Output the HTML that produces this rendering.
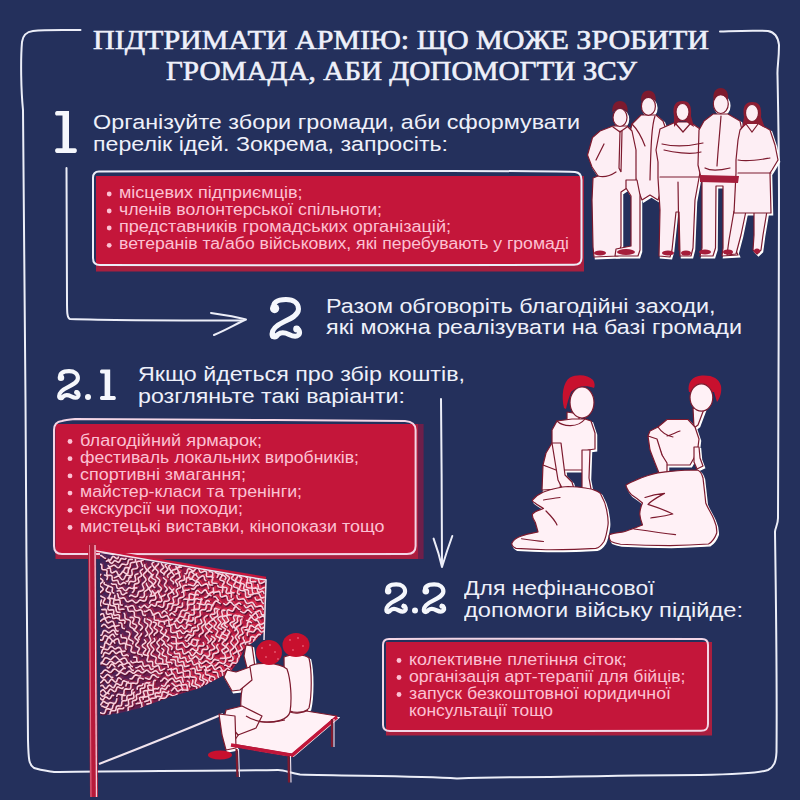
<!DOCTYPE html>
<html><head><meta charset="utf-8"><style>
html,body{margin:0;padding:0;}
body{width:800px;height:800px;overflow:hidden;background:#24305c;position:relative;}
.t{position:absolute;white-space:nowrap;transform-origin:0 0;}
svg{position:absolute;left:0;top:0;}
</style></head><body>
<svg width="800" height="800" viewBox="0 0 800 800">
<g fill="none" stroke="#eceef8" stroke-width="2" stroke-linecap="round" stroke-linejoin="round">
 <!-- frame -->
 <path d="M80.5,30 C60,30 45,29.5 33,31 C26,32 23,35 22,42 C20.5,60 21,90 23,110 C24.5,200 25,300 25.5,400 C26,500 27,650 28,740 C28.5,760 29,765 34,768 C40,770 48,771 54,772 C80,771 200,771 278,770 C285,770 290,773 300,774.5 C350,776 420,776 457,778.5 C480,777.5 520,777 550,777 C600,776 650,775 700,775 C730,774.5 760,773 768,770 C774,767 776,762 776.5,752 C777,700 776,600 775,532 C775,528 778,525 778,518 C778,450 779,300 779,200 C779,150 778,100 777.5,75 C777,68 779,60 779,45 C778,36 774,32 768,31 C750,30 735,31 720,31.5"/>
 <!-- section 1 connector -->
 <path d="M66.5,168 C66.5,220 67,270 67,300 C67,312 67,318 70,319 C100,320 180,320.5 242,320.5"/>
 <path d="M211,313 C225,315 237,317 246,319.5 C236,324 226,330 214,335"/>
 <!-- 2.1 down arrow -->
 <path d="M441,399 C441.5,450 442,520 442,566"/>
 <path d="M433.6,538.6 C437,548 440,558 442,567 C445,557 449,545 452.3,536"/>
</g>
<!-- box 1 -->
<rect x="96" y="176" width="488" height="95.5" fill="#a81f3f"/>
<rect x="96" y="176" width="485" height="89.5" fill="#c4163a"/>
<path d="M99,171.5 C200,171 350,170.5 450,171 C520,171 560,171.5 575,172 C580,172.5 581.5,175 581.5,180 L581.5,258 C581.5,263 579,264.8 574,264.8 C450,265 250,265.5 100,265 C95,265 93,263 93,258 L93,178 C93,174 95,171.5 99,171.5 Z" fill="none" stroke="#eceef8" stroke-width="2"/>
<!-- box 2.1 -->
<rect x="55.6" y="424" width="368" height="135" fill="#6e1f4a"/>
<rect x="55.6" y="424" width="362.4" height="135" fill="#a81f3f"/>
<rect x="55.6" y="424" width="360" height="130" fill="#c4163a"/>
<path d="M62,421 C65,420 70,419.5 75,419 C150,419.5 300,420 405,421 C412,421.5 415.6,424 415.6,430 L415.6,546 C415.6,551 413,554 407,554 C300,554.5 150,554 62,554 C57,554 54,551 54,546 L54,430 C54,425 57,421.5 62,421 Z" fill="none" stroke="#f3d6e6" stroke-width="2"/>
<!-- box 2.2 -->
<rect x="386" y="642" width="326" height="93.5" fill="#a81f3f"/>
<rect x="386" y="642" width="322" height="89" fill="#c4163a"/>
<path d="M389,639 C500,638.5 620,638.5 702,639 C706,639 708,641 708,645 L708,724 C708,729 706,730.7 701,730.7 C600,731 480,731 390,731 C385.5,731 383,729 383,725 L383,645 C383,641 385,639 389,639 Z" fill="none" stroke="#f3d6e6" stroke-width="2"/>
<!-- bullets -->
<g fill="#fcc1d3">
 <circle cx="109.2" cy="194" r="2.4"/><circle cx="109.2" cy="211" r="2.4"/><circle cx="109.2" cy="228" r="2.4"/><circle cx="109.2" cy="245.3" r="2.4"/>
 <circle cx="70" cy="441.5" r="2.4"/><circle cx="70" cy="458.7" r="2.4"/><circle cx="70" cy="475.9" r="2.4"/><circle cx="70" cy="493.1" r="2.4"/><circle cx="70" cy="510.3" r="2.4"/><circle cx="70" cy="527.5" r="2.4"/>
 <circle cx="399" cy="660.5" r="2.4"/><circle cx="399" cy="677.5" r="2.4"/><circle cx="399" cy="694.5" r="2.4"/>
</g>
<!-- numerals -->
<defs>
 <g id="two">
  <path d="M274.6,308.6 C271.5,303 277,299.5 286,299.5 C294,299.5 298.5,303.5 298.5,309 C298.5,315 291,318.5 284.5,321.5 C277,325 272,329 272,334 C272,337.5 276,338 278,334.5 C281,332 285,332.5 289,334.5 C293,336.5 296.5,337 298.5,335 C300.5,333 299.5,329 296.5,328.5" fill="none" stroke="#f5f7fc" stroke-linecap="round" stroke-linejoin="round"/>
  <circle cx="274.6" cy="308.6" r="4.6" fill="#f5f7fc"/>
  <circle cx="296.6" cy="329" r="3.4" fill="#f5f7fc"/>
  <circle cx="273.6" cy="336" r="3.2" fill="#f5f7fc"/>
 </g>
</defs>
<use href="#two" stroke-width="5"/>
<use href="#two" stroke-width="5.8" transform="translate(57.7,369.4) scale(0.709,0.72) translate(-270,-297)"/>
<use href="#two" stroke-width="5.8" transform="translate(384.9,582.5) scale(0.709,0.739) translate(-270,-297)"/>
<use href="#two" stroke-width="5.8" transform="translate(422.4,582.5) scale(0.736,0.739) translate(-270,-297)"/>
<g fill="#f5f7fc">
 <circle cx="88" cy="397" r="3"/>
 <circle cx="415" cy="610.5" r="3"/>
 <path d="M57,111 L69,111 L69,148.2 L75,148.2 C77.5,148.2 77.5,153 75,153 L57,153 C54.5,153 54.5,148.2 57,148.2 L62.5,148.2 L62.5,115.6 L57,115.6 C54.5,115.6 54.5,111 57,111 Z"/>
 <path d="M101.5,369.4 L110.2,369.4 L110.2,396 L114.3,396 C116.3,396 116.3,400 114.3,400 L101.5,400 C99.5,400 99.5,396 101.5,396 L104.6,396 L104.6,373.4 L101.5,373.4 C99.5,373.4 99.5,369.4 101.5,369.4 Z"/>
</g>
<!-- PEOPLE GROUP -->
<defs>
 <g id="ppl">
  <!-- P2 torso (behind) -->
  <path d="M641,115 L656,115 L663,121 L668,135 L665,150 L662,188 L658,200 L650,195 L642,200 L638,190 L632,160 L628,140 L632,124 Z"/>
  <!-- P1 -->
  <path d="M613,126 L627,126 L632,131 L636,150 L636,182 L621,192 L621,246 L618,256 L594,257 L593,247 L592,200 L593,178 L598,176 L592,167 L587.5,155 L592.5,137.5 L600,131 Z"/>
  <path d="M626,180 L637,180 L640,195 L640,250 L638,256 L615,256 L616,249 L631,246 L631,196 L626,188 Z"/>
  <ellipse cx="620" cy="117.5" rx="7" ry="9"/>
  <ellipse cx="648.4" cy="106.3" rx="7" ry="9"/>
  <!-- P3 -->
  <path d="M676,122 L690,122 L700,129 L704,150 L702,162 L699,178 L695,200 L693,248 L691,256 L680,256 L679,212 L676,212 L672,250 L670,257 L659,256 L660,210 L658,178 L658,162 L656,150 L660,129 Z"/>
  <!-- P4 -->
  <path d="M713,114 L728,114 L740,121 L744,140 L743,165 L738,182 L736,186 L734.6,248 L738,255 L722,256 L723,248 L723,186 L716,186 L715.5,248 L713,256 L700,256 L702,248 L702,182 L698,165 L699,130 L704,121 Z"/>
  <ellipse cx="720.8" cy="104" rx="7.5" ry="9.5"/>
  <!-- P5 -->
  <path d="M734,211 L746,211 L741,235 L736,254 L727,255 L729,240 Z"/>
  <path d="M754,211 L767,211 L763,235 L761,250 L757,254 L753,250 L754,235 Z"/>
  <path d="M746,123 L758,123 L770,130 L775,145 L778,160 L772,170 L770,173 L771,213 L734,213 L736,173 L736,160 L738,140 L740,130 Z"/>
 </g>
</defs>
<g id="group">
 <use href="#ppl" fill="#ffffff" stroke="#ffffff" stroke-width="1.5" transform="translate(1.5,1.8)"/>
 <use href="#ppl" fill="#fdeef4" stroke="#7d1a2e" stroke-width="1.2" stroke-linejoin="round"/>
 <!-- hair -->
 <path d="M674,116 C672,105 676,101 682.5,101 C689,101 692,105 691,116 L694,127 L689,124 L686,121 L679,121 L674,127 Z" fill="#8e1d33"/>
 <path d="M744,117 C742,106 746,102 752,102 C759,102 762,106 761,117 L765,128 L758,124 L747,124 L742,128 Z" fill="#8e1d33"/>
 <g fill="#fdeef4" stroke="#7d1a2e" stroke-width="1.2">
  <ellipse cx="682.5" cy="112" rx="6.5" ry="8.5"/>
  <ellipse cx="752" cy="113" rx="6.5" ry="8.5"/>
 </g>
 <path d="M612.5,113 C611.5,105 615,101 620,101 C625,101 628.5,105 627.5,113 C625,106.5 615,106.5 612.5,113 Z" fill="#7d1a2e"/>
 <path d="M641,102 C640.5,94 644,90.5 648.4,90.5 C653,90.5 656.5,94 655.8,102 C653,95.5 644,95.5 641,102 Z" fill="#7d1a2e"/>
 <path d="M713.5,100 C712.5,92 716,88 720.8,88 C725.5,88 729,92 728,100 C725,93.5 716,93.5 713.5,100 Z" fill="#7d1a2e"/>
 <g fill="none" stroke="#7d1a2e" stroke-width="1.2" stroke-linecap="round">
  <path d="M620,131 L619,168 L621,172 L622,131"/>
  <path d="M613,127 L620,132 L627,127"/>
  <path d="M596,160 L604,144 M598,176 C605,178 610,176 616,172"/>
  <path d="M632,124 C638,130 642,138 645,146 M655,116 C652,125 651,140 650,180"/>
  <path d="M664,150 C672,152 690,155 701,152 M662,144 C675,147 690,146 703,143"/>
  <path d="M676,124 L683,132 L690,124"/>
  <path d="M660,177 L700,177 M678,182 L679,250"/>
  <path d="M721,116 C720,130 718,150 717,166"/>
  <path d="M705,168 C712,172 722,170 730,168"/>
  <path d="M738,173 L771,173"/>
  <path d="M738,160 C748,162 758,160 770,158"/>
  <path d="M746,124 L752,132 L758,124"/>
 </g>
 <path d="M700,175 L739,176 L738,183 L700,182 Z" fill="#a51d3b"/>
 <g fill="#a51d3b">
  <ellipse cx="600" cy="253" rx="6" ry="2.5"/><ellipse cx="626" cy="252" rx="9" ry="3"/>
  <ellipse cx="668" cy="253" rx="6" ry="2.5"/><ellipse cx="686" cy="253" rx="5" ry="2.5"/>
  <ellipse cx="705" cy="252" rx="6" ry="2.5"/><ellipse cx="728" cy="252" rx="5" ry="2.5"/>
  <ellipse cx="757" cy="251" rx="3" ry="2.5"/>
 </g>
</g>
<!-- SACK RACE KIDS -->
<g id="kids">
 <defs>
  <g id="kidshapes">
   <!-- kid1 -->
   <path d="M543,465 L562,470 L560,489 L542,490 Z"/>
   <path d="M567,412 L579,414 L579,424 L567,423 Z"/>
   <path d="M557,421 L572,419 L585,419 L591,421 L595,433 L595,449 L588,450 L586,470 L556,470 L543,465 L546,453 L552,443 L552,430 Z"/>
   <path d="M552,443 L561,443 L565,475 L572,482 L574,489 L563,490 L558,480 Z"/>
   <path d="M582,450 L590,450 L589,478 L591,489 L582,490 L582,478 Z"/>
   <path d="M543.5,492 C552,489 560,487 568,486.5 C580,487 590,488 595.8,490.6 C599,492 601,494 601,494.75 C604,500 606,505 606.8,511 C608,517 608.5,521 608,525 C607,532 606,537 604,541.5 C601,546 598,548 595.75,548.4 C580,549.5 560,549.8 546,549.75 C535,549.5 525,549 516,548.4 C513,547 511.5,545 511.9,543 C514,539 518,537 521.5,536 C527,534 533,533 538,532 C537,528 536,525 535.25,522.25 C533,519 532,516 532.5,514 C535,511 540,510 543.5,508.5 C540,506 537,505 535,503 C533,502 532,501 532.5,500 C535,497 539,494 543.5,492 Z"/>
   <!-- kid2 -->
   <path d="M693,408 L704,409 L698,425 L694,428 Z"/>
   <path d="M658,427 L667,419.5 L688,419.5 L695,427 L699,439 L698,447 L694,458 L690,465 L666,465 L660,450 L655,440 L648,436 L650,431 Z"/>
   <path d="M648,436 L657,439 L662,455 L667,463 L667,472 L659,473 L655,463 L650,450 Z"/>
   <path d="M694,447 L699,447 L700,458 L703,466 L697,469 L694,462 Z"/>
   <path d="M626,485 C629,483 631,482 634,481 C638,479 643,477 648,475.5 C655,473 662,472 670,471.4 C680,470.5 690,470 697.5,470 C700,471 702,474 703,478 C704,487 705,495 705.75,503 C708,509 712,514 714,519.5 C716,524 717,529 716.75,533 C715,538 712,542 708.5,544 C695,545 682,545.5 670,545.6 C653,545.5 636,545 620.5,544.25 C616,543.5 613,542.5 611,541.5 C609,539 609,536 609.5,534.6 C614,533 619,532.5 623,532 C630,530 637,527 642.5,525 C641,521 640,517 639.75,514 C640,510 641,506 642.5,503 C639,500 635,497 631.5,494.75 C630,493 628,491 627.4,489 C626.5,487.5 626,486 626,485 Z"/>
  </g>
 </defs>
 <use href="#kidshapes" fill="#ffffff" stroke="#ffffff" stroke-width="1.5" transform="translate(1.5,1.8)"/>
 <use href="#kidshapes" fill="#fff1f6" stroke="#7d1a2e" stroke-width="1.2" stroke-linejoin="round"/>
 <!-- hair -->
 <path d="M564,408 C561,396 563,382 570,377.5 C577,374 588,374.5 593,380 C595,383 595,386 594,388 C586,385 577,386 571,392 C569,398 567,403 566,409 Z" fill="#c8102e"/>
 <path d="M689,392 C687,383 692,376 702,375.5 C712,375 719,378 721,386 C722,392 720,398 717,402 L714,392 Z" fill="#c8102e"/>
 <g fill="#fff1f6" stroke="#7d1a2e" stroke-width="1.2">
  <ellipse cx="582" cy="402.5" rx="12" ry="15.5"/>
  <ellipse cx="701.4" cy="397.5" rx="11.4" ry="13.7"/>
 </g>
   <g fill="none" stroke="#7d1a2e" stroke-width="1.2" stroke-linecap="round" stroke-linejoin="round">
  <path d="M543.5,500 C550,499 555,498 560,497.5 M546,511 C551,516 555,520 557,525 M521.5,538.75 C530,540 537,541 543.5,541.5"/>
  <path d="M645,497.5 C652,495 658,494 664.5,493.4 C658,497 652,500 648,504.4 C656,507 665,510 672.75,514 C665,516 657,517 650.75,518 M634,529 C648,531 662,533 675.5,534.6"/>
  <path d="M557,421 C563,427 578,428 585,419 M658,427 C662,433 668,436 673,437 M667,436 C672,435 676,432 680,431"/>
 </g>
</g>
<!-- NET SCENE -->
<defs>
 
</defs>
<defs><linearGradient id="meshbg" x1="100" y1="0" x2="265" y2="0" gradientUnits="userSpaceOnUse"><stop offset="0" stop-color="#3e2458"/><stop offset="0.4" stop-color="#7e1c4a"/><stop offset="0.7" stop-color="#ab1a42"/><stop offset="1" stop-color="#b81a40"/></linearGradient></defs>
<g id="net">
 <path d="M100,553 L265,580 L264,632 L256,640 L245,648 L238,662 L230,672 L215,680 L200,688 L170,697 L140,708 L120,713 L100,716 Z" fill="url(#meshbg)"/>
 <clipPath id="netclip"><path d="M100,553 L265,580 L264,632 L256,640 L245,648 L238,662 L230,672 L215,680 L200,688 L170,697 L140,708 L120,713 L100,716 Z"/></clipPath>
<g clip-path="url(#netclip)" fill="none" stroke-linecap="round" stroke-linejoin="round">
<defs><path id="meshp" d="M190.4 669.0 191.8 668.8 193.3 668.5 194.5 668.5 195.1 669.4 195.3 670.8 195.2 672.4 195.6 673.4 196.5 673.8 198.0 673.8 199.5 673.9 200.4 674.5 200.5 675.7 200.1 677.2 199.7 678.5 199.9 679.5 201.0 680.0 202.5 680.5 203.6 681.1 204.0 682.1 203.4 683.4 202.5 684.6 201.9 685.7M100.9 635.3 101.8 635.0 102.3 634.0 102.7 632.6 103.3 631.2 104.2 630.5 105.3 630.6 106.5 631.3 107.6 632.2 108.6 632.8 109.5 632.6 110.5 631.8 111.6 630.8 112.8 630.2 113.9 630.3 114.7 631.2 115.3 632.6 115.8 633.8 116.5 634.5 117.6 634.5M165.9 609.3 166.9 608.8 167.4 607.6 167.7 606.1 167.9 604.7 168.4 603.9 169.4 603.7 170.9 603.8 172.4 603.8 173.4 603.3 173.8 602.2 173.5 600.8 173.1 599.3 172.9 598.1 173.4 597.3 174.6 596.8 176.0 596.4 177.3 595.8 177.8 594.9 177.6 593.7 176.9 592.4 176.2 591.1 176.2 590.0 176.9 589.2 178.2 588.6 179.6 588.1 180.6 587.4 180.8 586.4 180.3 585.1 179.6 583.7 179.2 582.4 179.6 581.5 180.7 580.9 182.2 580.6 183.6 580.3 184.4 579.7 184.5 578.7 184.3 577.2 184.2 575.7M171.4 642.9 172.4 643.5 174.0 643.6 175.6 643.7 176.5 644.1 176.7 645.2 176.4 646.8 176.3 648.3 176.8 649.4 178.0 649.6 179.6 649.3 181.1 648.9 182.1 649.0 182.6 650.0 182.8 651.6 183.2 653.1 184.0 653.9 185.3 653.7 186.6 652.8 187.9 651.9 188.9 651.7 189.7 652.5 190.5 653.9 191.4 655.3 192.4 655.7 193.5 655.1 194.5 653.8 195.3 652.6 196.2 652.1 197.2 652.6 198.5 653.6 199.9 654.4 201.1 654.4 201.8 653.3 202.0 651.7 202.1 650.3 202.6 649.5 203.8 649.4 205.4 649.5 207.0 649.4 207.9 648.7 207.9 647.4 207.2 645.9M225.9 574.7 227.1 575.5 228.3 576.2 229.2 577.1 229.4 578.0 229.0 579.1 228.2 580.3 227.4 581.6 227.2 582.7 227.7 583.6 228.8 584.3 230.1 584.9 231.2 585.6 231.8 586.3 231.7 587.4 231.3 588.7 230.8 590.2 230.8 591.4 231.5 592.3 232.7 592.7 234.1 592.8M185.0 573.7 186.2 573.7 186.8 573.1 187.1 571.7 187.4 570.1 188.0 568.9 189.0 568.6 190.3 569.2 191.6 570.2 192.7 571.1 193.6 571.1 194.5 570.3 195.5 569.0 196.7 568.0 197.8 568.0 198.7 568.9 199.4 570.4 199.9 571.8 200.6 572.5 201.7 572.4 203.1 571.7 204.6 571.1 205.8 571.2 206.5 572.2 206.6 573.8 206.5 575.4 206.8 576.4 207.7 576.8 209.2 576.8 210.9 576.6 212.1 576.9 212.6 577.9 212.4 579.3 212.0 580.9 211.9 582.2 212.5 582.9 213.9 583.2 215.6 583.2 216.9 583.5M111.5 583.6 112.4 584.2 113.7 584.3 115.1 584.3 116.1 584.6 116.5 585.5 116.8 586.9 117.2 588.1 118.1 588.7 119.3 588.6 120.6 588.1 121.8 587.8 122.7 588.1 123.4 589.0 124.3 590.1 125.3 590.6 126.4 590.4 127.4 589.4 128.2 588.3 129.0 587.7 130.0 587.8 131.2 588.3 132.5 588.5 133.5 588.1 134.1 587.0 134.2 585.7 134.4 584.6 135.1 583.9 136.3 583.6 137.7 583.4 138.7 582.7 139.0 581.7 138.7 580.4 138.2 579.2 138.2 578.1 139.0 577.4 140.2 576.7 141.3 576.0 141.7 575.0 141.3 573.9 140.6 572.7 140.2 571.5 140.5 570.6 141.5 569.8 142.6 569.1M170.7 659.8 172.2 659.8 173.7 659.8 174.8 660.0 175.4 660.8 175.5 662.1 175.5 663.6 175.8 665.0 176.4 665.8 177.6 666.0 179.0 665.7 180.5 665.3 181.7 665.4 182.4 666.1 182.8 667.3 182.9 668.9 183.2 670.2 183.8 671.0 184.9 671.2 186.3 671.0 187.8 670.7 189.0 670.8 189.8 671.5 190.0 672.8 190.0 674.3 190.0 675.7 190.4 676.6 191.4 677.0 192.9 677.1 194.4 677.1 195.6 677.5 196.2 678.4 196.1 679.7 195.7 681.1 195.2 682.5 195.3 683.5 196.0 684.2 197.4 684.7 198.8 685.2 199.9 686.0 200.3 686.9M236.9 595.6 237.1 596.9 237.5 598.1 238.1 599.0 239.1 599.4 240.4 599.3 241.7 599.0 242.9 598.8 243.9 599.0 244.6 599.8 245.2 600.9 245.7 602.1 246.5 603.0 247.4 603.5 248.5 603.4 249.7 602.9 251.0 602.5 252.1 602.4 253.0 602.9 253.7 603.8 254.3 605.0 255.0 606.1 255.8 606.7 256.8 606.8 258.0 606.5 259.3 606.1 260.5 605.9 261.5 606.1 262.2 606.9 262.8 608.1 263.3 609.3M160.1 597.7 160.2 596.6 159.7 595.3 159.1 594.1 158.7 593.1 159.0 592.2 159.8 591.3 160.7 590.3 161.3 589.3 161.3 588.3 160.6 587.3 159.5 586.4 158.6 585.5 158.2 584.6 158.5 583.6 159.1 582.4 159.7 581.2 159.8 580.2 159.3 579.3 158.3 578.5 157.2 577.7 156.4 576.9 156.4 575.8 156.9 574.7 157.6 573.6 158.1 572.5 158.0 571.5 157.3 570.6 156.3 569.7 155.5 568.7 155.3 567.6 155.8 566.6 156.8 565.7 157.8 564.9 158.4 564.1 158.4 563.1M106.5 561.2 107.6 560.5 108.6 560.6 109.4 561.5 110.3 562.7 111.3 563.4 112.4 563.0 113.4 561.8 114.3 560.8 115.2 560.6 116.3 561.2 117.5 562.1 118.6 562.4 119.5 561.6 120.1 560.3 120.6 559.0 121.4 558.5 122.6 558.7 124.1 559.2 125.3 559.2 126.0 558.4M144.4 639.8 145.5 641.0 145.9 642.0 145.3 642.9 143.9 643.8 142.6 644.7 142.2 645.7 142.8 646.8 144.2 647.8 145.5 648.7 145.9 649.6 145.2 650.6 144.1 651.8 143.3 653.1 143.5 654.2 144.7 654.9 146.4 655.3 147.7 655.7 148.1 656.5 147.7 657.9 147.2 659.4 147.1 660.8 147.9 661.6 149.4 661.6 151.0 661.4 152.2 661.5 152.7 662.4 152.7 663.9 152.7 665.6 153.2 666.7 154.4 666.9 155.9 666.3 157.4 665.7 158.4 665.7 159.0 666.7 159.4 668.3 159.8 669.8 160.6 670.6 161.8 670.2 163.3 669.4 164.6 668.7M139.3 606.5 140.2 607.6 141.2 607.7 142.3 606.8 143.4 605.7 144.4 605.2 145.3 605.7 146.3 606.9 147.4 607.8 148.4 607.8 149.4 606.8 150.2 605.5 151.0 604.6 152.0 604.7 153.2 605.5 154.5 606.1 155.6 605.9 156.2 604.8 156.5 603.2 156.8 602.1 157.7 601.7 159.2 601.9 160.7 601.9 161.7 601.3 161.8 600.1 161.4 598.6 161.0 597.4 161.5 596.6 162.8 596.1 164.3 595.5 165.0 594.5M233.4 653.8 234.4 653.1 235.6 652.5 236.5 651.7 236.9 650.7 236.7 649.6 236.0 648.4 235.4 647.3 235.0 646.3 235.2 645.3 236.0 644.4 236.9 643.5 237.7 642.5 237.9 641.5 237.6 640.5 236.8 639.5 236.0 638.4 235.5 637.4 235.6 636.4 236.2 635.4 237.2 634.5 238.0 633.6 238.3 632.6 238.1 631.6 237.5 630.5 236.8 629.4 236.5 628.2 236.7 627.2 237.6 626.4 238.7 625.7 239.8 625.2 240.6 624.5 240.8 623.6 240.8 622.4 240.7 621.0 241.0 619.8 241.8 619.0M147.1 619.0 148.1 619.5 149.3 619.9 150.5 620.4 151.2 621.3 151.4 622.4 151.0 623.6 150.4 624.8 150.0 625.8 149.9 626.8 150.4 627.7 151.2 628.6 152.0 629.6 152.5 630.7 152.4 631.7 151.7 632.7 150.7 633.6 149.8 634.4 149.2 635.3 149.2 636.3 149.7 637.4 150.3 638.6 150.7 639.7 150.7 640.7 150.2 641.6 149.3 642.5 148.3 643.3 147.5 644.2 147.3 645.2 147.7 646.3 148.4 647.4 149.2 648.4 149.6 649.3 149.5 650.3 149.0 651.3 148.3 652.4 147.8 653.6 147.7 654.7 148.3 655.6M159.8 638.7 159.6 639.7 158.6 640.6 157.5 641.5 156.9 642.4 157.2 643.5 158.1 644.6 159.0 645.6 159.2 646.6 158.5 647.6 157.4 648.6 156.8 649.6 157.0 650.7 158.1 651.6 159.3 652.4 159.9 653.2 159.8 654.2 159.1 655.5 158.6 656.8 158.9 657.8 160.0 658.4 161.4 658.7 162.5 659.2 162.9 660.0 162.8 661.4 162.7 662.9 163.1 663.9 164.2 664.2 165.6 664.1 166.9 664.1 167.7 664.6 168.1 665.8 168.3 667.3M116.8 696.2 117.2 695.0 117.9 694.3 119.1 694.3 120.5 694.7 121.9 694.9 123.1 694.8 123.7 693.9 124.0 692.6 124.0 691.1 124.3 689.8 125.0 689.1 126.1 688.9 127.6 689.1 129.0 689.2 130.1 689.0 130.7 688.1 130.9 686.7 130.9 685.2 131.1 684.0 131.8 683.2 133.0 683.1 134.5 683.3 135.9 683.6 137.0 683.4 137.6 682.5 137.9 681.2 138.1 679.7 138.5 678.5 139.4 677.9 140.6 678.0 142.0 678.5 143.3 679.0M144.3 611.4 145.3 611.6 146.5 611.2 147.8 610.4 149.0 609.8 150.1 609.7 150.9 610.5 151.5 611.8 152.1 613.2 152.8 614.1 153.8 614.4 155.0 614.0 156.3 613.2 157.6 612.7 158.6 612.7 159.4 613.5 160.0 614.8 160.6 616.2 161.3 617.2 162.3 617.4 163.5 617.0 164.8 616.2 166.0 615.6 167.0 615.6 167.8 616.4 168.5 617.7 169.2 619.1 170.1 619.9 171.1 619.9 172.3 619.3M171.9 683.3 172.9 683.9 173.9 684.8 174.7 685.7 175.6 686.2 176.6 686.2 177.7 685.7 178.9 685.3 180.1 685.2 181.0 685.7 181.6 686.7 182.1 688.0 182.6 689.1 183.3 689.8 184.3 690.0 185.5 690.0 186.8 690.1 187.8 690.5M100.8 685.9 101.9 685.3 102.8 685.6 103.7 686.8 104.7 688.0 105.7 688.6 106.7 688.1 107.7 686.8 108.6 685.6 109.5 685.1 110.5 685.7 111.7 686.8 112.9 687.6 114.0 687.4 114.7 686.3 115.4 684.8 116.1 683.7 117.0 683.6 118.3 684.2 119.7 685.1 120.9 685.3 121.7 684.6 122.2 683.2 122.6 681.7 123.3 680.8 124.4 680.9 125.9 681.6 127.3 682.2 128.3 682.0M100.8 596.0 101.9 596.8 103.5 597.4 104.7 598.1 105.0 599.0 104.3 600.2 103.5 601.7 103.2 603.0 104.0 603.8 105.5 604.1 107.2 604.2 108.3 604.6 108.5 605.6 108.2 607.1 107.9 608.7 108.3 609.8 109.4 610.1 111.1 609.9 112.6 609.7 113.6 610.1 113.8 611.4 113.6 613.1 113.7 614.5 114.3 615.3 115.7 615.2 117.4 614.8 118.8 614.7 119.5 615.5 119.5 616.9 119.3 618.6 119.5 619.9 120.4 620.4 121.9 620.2 123.6 620.1 124.7 620.4 125.1 621.5 124.7 623.1M179.2 615.2 180.0 614.4 180.5 613.1 180.9 611.8 181.5 610.9 182.3 610.4 183.5 610.4 184.9 610.6 186.1 610.5 187.0 610.0 187.5 608.9 187.6 607.6 187.7 606.2 188.1 605.2 188.9 604.6 190.1 604.4 191.5 604.4 192.7 604.3 193.6 603.8 194.1 602.9 194.3 601.5 194.6 600.2 195.1 599.2 196.1 598.7 197.3 598.8 198.6 599.2 199.8 599.5 200.8 599.3 201.5 598.5M150.6 595.0 151.4 594.2 151.5 593.0 150.9 591.7 150.0 590.5 149.3 589.4 149.2 588.5 149.8 587.6 150.8 586.6 151.8 585.6 152.5 584.6 152.4 583.5 151.6 582.6 150.5 581.7 149.3 580.8 148.7 579.9 148.8 578.9 149.5 577.8 150.5 576.6 151.3 575.5 151.5 574.5 151.0 573.6 149.9 572.7 148.8 571.7 148.0 570.7 147.9 569.7 148.5 568.6 149.7 567.7 150.8 566.9M100.8 564.2 101.7 564.7 101.9 566.0 101.8 567.5 101.9 568.8 102.5 569.5 103.8 569.7 105.3 569.7 106.5 570.0 107.1 570.9 107.0 572.2 106.8 573.7 107.0 574.8 108.0 575.4 109.4 575.4 110.9 575.4 111.8 575.8 112.2 576.9 112.1 578.4 112.2 579.8 112.9 580.7 114.1 580.8 115.5 580.5 116.8 580.2 117.7 580.6 118.2 581.8 118.6 583.2 119.4 584.3 120.4 584.6 121.6 583.9 122.8 583.0 123.7 582.4 124.6 582.7 125.7 583.6M165.4 591.6 166.4 590.7 167.1 589.7 167.1 588.6 166.4 587.6 165.4 586.7 164.6 585.8 164.5 584.8 164.9 583.8 165.7 582.7 166.3 581.5 166.3 580.5 165.6 579.6 164.5 578.8 163.5 577.9M164.1 621.3 165.6 620.9 167.1 620.3 168.3 620.3 168.9 621.3 169.0 622.9 169.2 624.5 169.9 625.3 171.2 625.1 172.8 624.4 174.1 623.8 175.0 624.1 175.5 625.4 176.0 627.1 176.7 628.3 177.8 628.3 179.1 627.4 180.2 626.3 181.2 625.8 182.1 626.3 183.1 627.6 184.3 628.7 185.5 628.8 186.3 627.8 186.8 626.2 187.2 624.9 188.0 624.4 189.3 624.8 191.0 625.4M99.9 639.9 101.3 640.1 102.4 639.9 103.0 639.1 103.3 637.7 103.7 636.3 104.6 635.5 105.7 635.6 107.0 636.3 108.1 637.0 109.0 637.0 109.9 636.2 110.9 635.1 112.0 634.3 113.1 634.4 114.0 635.3 114.7 636.6M101.6 626.2 102.5 625.1 103.5 624.4 104.6 624.5 105.6 625.2 106.6 626.3 107.5 627.4 108.4 627.9 109.3 627.7 110.5 627.1 111.7 626.3 112.9 625.9 114.0 626.0 114.8 626.9 115.3 628.2 115.7 629.6 116.3 630.6 117.1 631.1 118.2 631.0M108.2 715.4 109.3 715.2 109.9 714.3 110.1 713.0 110.4 711.7 111.0 710.8 112.1 710.6 113.4 710.7 114.7 710.8 115.6 710.2 116.0 709.1 116.1 707.7 116.5 706.5 117.3 706.0 118.5 705.9 119.9 706.0 121.0 705.7 121.6 704.8 121.7 703.4 121.8 702.1 122.3 701.2 123.3 700.8 124.7 700.8 126.0 700.6 126.8 700.0 127.0 698.8 126.9 697.4 127.0 696.2 127.8 695.5 129.0 695.3 130.4 695.1 131.4 694.7 131.8 693.7 131.8 692.4 131.7 691.0 132.1 690.0 133.1 689.6M144.8 618.6 144.5 619.9 144.4 621.1 144.7 622.0 145.5 622.6 146.6 623.3 147.6 624.2 147.9 625.2 147.6 626.3 146.8 627.4 146.0 628.4 145.6 629.4 145.9 630.3 146.6 631.4 147.3 632.5 147.7 633.5 147.4 634.5 146.6 635.4 145.5 636.2M247.4 635.5 247.2 634.1 247.3 632.8 247.9 631.8 248.9 631.4 250.3 631.5 251.7 631.8 252.8 632.0 253.7 631.8 254.4 630.9 255.1 629.8 256.0 628.8 257.1 628.4 258.2 628.8 259.1 629.7 260.0 630.9 260.8 631.7 261.6 632.0 262.7 631.7 264.0 631.2M160.8 681.1 161.7 680.7 162.5 679.7 163.3 678.6 164.3 678.0 165.4 678.3 166.4 679.2 167.4 680.1 168.4 680.4 169.4 680.0 170.5 679.2 171.6 678.5 172.6 678.5 173.5 679.3 174.3 680.5 175.0 681.5 175.9 681.8 177.1 681.4 178.4 680.8 179.5 680.7 180.4 681.3 181.0 682.5 181.4 683.8 181.9 684.7 182.9 684.9 184.3 684.7 185.7 684.6 186.7 685.0 187.1 686.1 187.2 687.5 187.3 688.7 187.8 689.5M169.9 610.5 170.9 610.1 171.6 609.1 171.9 607.7 172.2 606.4 172.7 605.5 173.6 605.0 174.8 605.0 176.2 605.0 177.4 604.7 178.3 604.1 178.6 603.0 178.5 601.6 178.4 600.3 178.5 599.1 179.0 598.3 180.1 597.9 181.5 597.6 182.8 597.2 183.6 596.6 184.0 595.7 183.9 594.4 183.7 593.0 183.7 591.8 184.2 590.8 185.2 590.3 186.5 590.2 187.9 590.1 189.0 589.8M104.2 582.6 104.0 583.7 104.9 584.5 106.4 585.1 107.7 585.8 108.1 586.7 107.4 587.9 106.4 589.3 106.0 590.5 106.6 591.4 108.0 591.9 109.6 592.4 110.5 593.1 110.3 594.2 109.5 595.7 109.0 597.1 109.5 598.0 110.8 598.4 112.5 598.5 113.7 598.9 114.1 599.8 113.7 601.3 113.4 602.9 113.7 604.0 114.8 604.4 116.4 604.2 117.9 604.1 118.7 604.7 118.8 606.0 118.6 607.7 118.8 609.0 119.7 609.6 121.2 609.3 122.8 609.0 123.9 609.3M146.9 704.1 148.3 703.9 149.8 703.8 150.9 703.4 151.1 702.3 150.7 700.8 150.5 699.3 151.1 698.5 152.4 698.2 154.0 698.2 155.1 697.9 155.5 696.9 155.2 695.4 155.1 693.9 155.7 693.0 157.0 692.9 158.6 693.1 159.8 693.0 160.4 692.2 160.5 690.7 160.6 689.2 161.4 688.3 162.6 688.4 164.1 689.1 165.3 689.4 166.1 688.9 166.7 687.6 167.3 686.2 168.3 685.5 169.4 685.9M188.8 655.9 189.4 657.3 190.1 658.6 191.1 659.1 192.2 658.8 193.4 657.8 194.6 656.8 195.6 656.3 196.5 656.6 197.4 657.6 198.4 658.8 199.5 659.5 200.6 659.4 201.5 658.5 202.3 657.1 202.9 655.8 203.7 655.2 204.7 655.3 206.1 655.9 207.5 656.4 208.7 656.2 209.5 655.4 209.7 654.0 209.5 652.4 209.4 651.2 209.9 650.5 211.0 650.1 212.6 649.7 214.0 649.1 214.7 648.2 214.4 647.0 213.5 645.8 212.5 644.7 211.9 643.8 212.2 642.8 213.1 641.8 214.3 640.8 215.1 639.6 215.0 638.6 214.1 637.7 212.8 636.9 211.6 636.1M116.5 675.5 117.4 675.0 118.3 674.1 119.2 673.1 120.1 672.4 121.1 672.4 122.1 672.8 123.3 673.6 124.4 674.1 125.4 674.2 126.3 673.6 127.2 672.6 128.0 671.7 129.0 671.1 130.0 671.3 131.1 671.9 132.2 672.7 133.2 673.2 134.2 673.1 135.2 672.4 136.1 671.4 137.1 670.6 138.1 670.4 139.1 670.7 140.1 671.5 141.1 672.3 142.1 672.7 143.1 672.6 144.1 671.8 145.1 671.0 146.1 670.3 147.2 670.3 148.1 670.9 149.1 671.8 150.1 672.6 151.0 673.0 152.0 672.7 153.1 672.0 154.2 671.2 155.2 670.8 156.2 671.0 157.1 671.7 158.0 672.8 158.9 673.6 159.9 673.8 160.9 673.5 162.1 672.8M171.6 636.9 172.9 637.1 174.4 637.3 175.5 637.6 176.1 638.4 176.2 639.5 176.2 640.9 176.4 642.3 177.0 643.2 178.1 643.6 179.4 643.4 180.8 643.0 182.0 642.8 182.8 643.2 183.5 644.1 184.1 645.3 184.9 646.5 185.8 647.1 186.9 647.1 188.1 646.3 189.1 645.3 189.9 644.5 190.8 644.3 191.8 644.7 193.0 645.4 194.4 646.0 195.6 646.0 196.5 645.3 196.9 644.1 197.1 642.6 197.2 641.4 197.7 640.7 198.6 640.3M245.5 644.5 245.4 643.3 245.9 642.4 247.1 642.0 248.6 641.8 249.7 641.4 250.2 640.6 250.3 639.4 250.4 638.0 250.9 637.0 252.0 636.6 253.4 636.9 254.7 637.3 255.7 637.4 256.5 636.9 257.2 635.8 258.1 634.7 259.2 634.3 260.3 634.7M218.3 573.4 219.9 573.9 221.4 574.4 222.0 575.3 221.5 576.5 220.4 577.9 219.8 579.2 220.3 580.1 221.7 580.6 223.3 581.1 224.2 581.9 223.9 583.0 222.9 584.5 222.3 585.9 222.7 586.8 224.1 587.3 225.8 587.5 226.9 587.9 227.0 589.0 226.4 590.6 226.0 592.2 226.5 593.2 227.8 593.4 229.6 593.1 230.9 593.1 231.4 593.9 231.3 595.5 231.3 597.3M215.0 665.8 216.0 665.3 217.0 664.3 217.8 663.2 218.6 662.5 219.6 662.3 220.7 662.7 221.9 663.3 223.2 663.6 224.2 663.4 225.0 662.5 225.4 661.2 225.6 659.8 225.9 658.8 226.6 658.1 227.6 657.8 229.0 657.6 230.2 657.2 231.0 656.5 231.2 655.4 230.9 654.1 230.4 652.8 230.1 651.7 230.3 650.8 231.1 650.0 232.2 649.2 233.2 648.3 233.7 647.3 233.5 646.2 232.7 645.2 231.8 644.2 231.0 643.3 230.8 642.3 231.2 641.3 232.0 640.2 232.8 639.1 233.1 638.0 232.8 637.0 231.9 636.2M212.0 632.3 210.5 631.5 209.2 630.6 209.2 629.6 210.2 628.5 211.6 627.3 212.2 626.3 211.6 625.4 210.2 624.4 209.0 623.4 208.9 622.3 210.0 621.4 211.6 620.6 212.5 619.8 212.3 618.8 211.3 617.5 210.3 616.1 210.4 614.9 211.7 614.3 213.4 614.1 214.7 613.9 215.0 613.0 214.6 611.4 214.3 609.7 214.7 608.6 216.0 608.4 217.6 608.9 219.0 609.3M203.3 674.9 202.9 676.4 202.6 677.7 202.9 678.6 203.9 679.1 205.3 679.6 206.6 680.2 207.5 681.0 207.6 682.1 206.9 683.3 206.0 684.5M100.7 574.4 99.7 575.6 99.0 576.8 99.2 577.7 100.3 578.5 101.7 579.3 102.8 580.3 102.9 581.3 102.0 582.4 100.8 583.4 99.8 584.5 99.7 585.4 100.6 586.4 102.0 587.4 103.0 588.4 103.2 589.3 102.5 590.4 101.2 591.4 100.2 592.5M171.2 668.7 171.8 669.6 173.1 669.5 174.7 668.8 176.1 668.4 176.9 668.9 177.2 670.3 177.4 672.0 177.9 673.2 178.9 673.3 180.5 672.7 182.0 672.2 183.0 672.5 183.4 673.7 183.4 675.4 183.6 676.8 184.5 677.3 186.0 677.0 187.6 676.6 188.8 676.9 189.2 678.0M176.1 619.1 177.2 619.1 178.1 618.2 178.9 616.9 179.6 616.1 180.6 616.2 181.9 616.8 183.3 617.3 184.3 617.0 184.9 615.9 185.1 614.5 185.5 613.3 186.4 612.9 187.8 613.0 189.2 613.2M101.8 706.0 103.0 706.5 104.3 707.1 105.5 707.4 106.5 707.3 107.3 706.5 107.9 705.3 108.4 704.0 109.1 703.0 109.9 702.6 111.1 702.7 112.4 703.0 113.7 703.4 114.8 703.3 115.6 702.6 116.1 701.5 116.5 700.2 116.8 698.9M194.9 623.4 195.4 622.4 195.3 621.1 195.1 619.7 195.1 618.4 195.6 617.6 196.6 617.1 198.0 616.8 199.3 616.5 200.2 615.9 200.4 614.9 200.3 613.5 200.0 612.1 200.2 610.9 200.9 610.2 202.1 609.8 203.5 609.8 204.7 609.7 205.6 609.2 206.0 608.2 206.1 606.8 206.4 605.4 207.0 604.4 208.0 604.0 209.3 604.2 210.6 604.7 211.8 605.0 212.7 604.8 213.4 604.0 214.1 602.7 214.9 601.6 215.9 601.0 217.0 601.2 218.1 602.0 219.1 602.9 220.1 603.5M102.0 656.9 102.9 656.5 103.4 655.4 103.7 654.0 104.3 652.8 105.3 652.4 106.6 652.9 107.9 653.6 109.0 654.0 109.8 653.5 110.6 652.4 111.5 651.2 112.5 650.7 113.6 651.1 114.6 652.2 115.5 653.3 116.3 653.6 117.4 653.1 118.6 652.2 119.9 651.6 120.9 651.9 121.6 653.0 122.1 654.4 122.6 655.5 123.6 655.8 124.9 655.4 126.3 654.9 127.5 655.0 128.2 655.8M152.3 615.0 153.6 615.0 154.2 615.9 154.3 617.4 154.2 618.9 154.6 619.9 155.6 620.2 157.2 620.2 158.6 620.4 159.2 621.3 159.0 622.6 158.4 624.1 158.2 625.3 158.9 626.0 160.3 626.5 161.7 627.1 162.4 627.9 162.0 629.1 161.1 630.4 160.4 631.5 160.7 632.5 161.8 633.3 163.2 634.1 163.9 635.1 163.6 636.1 162.5 637.2 161.5 638.3 161.3 639.3 162.1 640.2 163.4 641.2 164.3 642.1 164.2 643.1 163.2 644.2 162.1 645.3M117.5 593.7 118.0 594.6 118.2 595.8 118.5 597.1 119.2 598.0 120.2 598.4 121.4 598.2 122.7 597.9 123.8 597.9 124.7 598.3 125.3 599.3 126.0 600.5 126.7 601.4 127.7 601.8 128.8 601.6 130.0 600.9 131.1 600.4 132.1 600.2 133.0 600.7 133.9 601.6 134.9 602.4 136.0 602.9 137.0 602.6 138.0 601.8 138.8 600.8 139.7 600.1 140.6 600.0 141.7 600.4 143.0 600.9 144.2 601.1 145.2 600.7 145.9 599.7 146.2 598.4 146.4 597.3 146.9 596.5M249.9 615.0 250.9 616.0 251.8 616.2 252.8 615.4 253.9 614.1 255.1 613.3 256.1 613.4 257.0 614.5 257.6 616.1 258.2 617.3 259.1 617.7 260.3 617.2 261.7 616.4 263.1 616.0 264.1 616.5 264.5 617.8M100.9 663.9 101.8 663.3 102.9 663.4 104.1 663.9 105.3 664.5 106.4 664.8 107.3 664.5 108.1 663.6 108.9 662.5 109.8 661.6 110.8 661.3 111.9 661.7 113.0 662.5 114.0 663.3 115.0 663.7 116.0 663.4 117.0 662.7 118.0 661.8 119.1 661.2 120.1 661.3 121.0 662.0 121.9 663.1 122.7 664.0 123.7 664.5 124.7 664.3 125.9 663.6 127.0 663.0 128.1 662.7 129.1 663.1 129.9 664.1 130.6 665.3 131.4 666.2 132.3 666.6M199.2 636.8 199.1 635.7 199.5 634.9 200.4 634.2 201.5 633.5 202.6 632.8 203.1 631.9 203.2 630.8 202.7 629.7 202.1 628.5 201.8 627.4 201.9 626.5 202.6 625.6 203.6 624.8 204.6 624.0 205.2 623.1 205.2 622.1 204.9 621.0 204.3 619.8 204.0 618.6 204.2 617.6 205.0 616.8 206.1 616.1 207.2 615.6M206.6 657.8 207.6 658.1 208.9 658.7 210.2 659.2 211.4 659.0 212.2 658.3 212.6 657.0 212.8 655.7 213.0 654.5 213.5 653.8 214.5 653.4 215.9 653.2 217.2 652.7 218.2 652.0 218.5 650.9 218.1 649.7 217.4 648.5 216.7 647.5 216.6 646.5 217.0 645.6 217.8 644.6M223.8 603.5 224.8 604.4 225.8 604.8 226.8 604.5 227.8 603.6 228.8 602.7 229.9 602.0 230.9 602.1 231.8 602.9 232.7 604.0 233.6 605.0 234.6 605.4 235.6 605.1 236.7 604.3 237.9 603.5 238.9 603.0 239.9 603.3 240.8 604.2M220.5 658.4 221.5 658.2 223.0 658.4 224.4 658.3 225.3 657.6 225.4 656.4 225.0 654.9 224.6 653.7 224.8 652.8 225.9 652.1 227.3 651.5 228.4 650.6 228.6 649.6 227.8 648.5 226.7 647.4 226.0 646.5 226.1 645.5 227.0 644.5 228.0 643.3M164.9 643.8 165.1 644.8 165.8 645.7 166.9 646.4 167.8 647.2 168.4 648.1 168.4 649.1 168.1 650.2 167.7 651.5 167.6 652.6 168.0 653.6 169.0 654.2 170.2 654.7 171.3 655.2M239.7 576.7 240.9 577.3 241.5 578.2 241.2 579.3 240.5 580.7 240.1 581.9 240.5 582.8 241.8 583.4 243.3 583.8 244.2 584.4 244.3 585.4 243.9 586.8 243.6 588.3 244.0 589.3 245.2 589.7 246.7 589.7 247.9 589.9 248.5 590.7 248.5 592.0 248.5 593.5 249.0 594.6 250.1 594.9 251.5 594.6 252.9 594.4M144.8 701.7 145.9 701.2 147.3 700.9 148.5 700.5 149.1 699.7 149.1 698.5 148.7 697.1 148.6 695.8 149.3 695.0 150.6 694.7 152.0 694.5 153.1 694.1 153.5 693.2 153.4 691.8 153.2 690.3 153.6 689.2 154.6 688.8 156.0 688.8 157.4 688.9 158.3 688.6 158.8 687.5M100.7 704.7 101.6 703.6 102.4 702.2 103.2 701.4 104.2 701.6 105.5 702.5 106.7 703.3 107.8 703.3M218.7 641.2 219.6 640.0 219.9 638.9 219.4 638.0 218.3 637.2 217.0 636.6 216.1 635.8 215.9 634.8 216.5 633.6 217.3 632.3 217.7 631.2 217.3 630.3 216.3 629.5 215.0 628.7 214.1 627.9 214.0 626.8 214.6 625.7 215.6 624.6 216.3 623.6 216.3 622.7 215.6 621.7 214.5 620.6 213.8 619.5 213.9 618.4 214.8 617.5 216.2 616.9 217.3 616.3 217.8 615.5 217.6 614.4 217.2 613.0 217.1 611.6 217.6 610.6M136.2 703.7 137.6 703.4 139.3 703.2 140.4 702.8 140.6 701.7 140.1 700.2 139.5 698.7 139.7 697.7 140.8 697.2 142.4 697.0 143.8 696.6 144.4 695.8 144.1 694.4 143.5 692.9 143.4 691.6 144.2 690.9 145.8 690.8 147.3 690.7 148.3 690.2 148.3 689.0 147.9 687.4 147.8 685.9 148.5 685.1 149.9 685.0 151.5 685.4 152.8 685.4 153.3 684.6 153.4 683.0 153.6 681.4 154.3 680.4 155.5 680.5M127.6 711.7 128.2 710.8 128.2 709.5 128.1 708.1 128.4 707.1 129.3 706.6 130.7 706.4 132.0 706.1 132.7 705.3 132.7 704.1 132.4 702.7 132.4 701.5 133.1 700.8 134.4 700.4 135.7 700.1 136.6 699.4 136.7 698.3 136.4 697.0 136.2 695.7 136.7 694.8 137.9 694.3 139.2 694.0 140.3 693.5 140.6 692.5 140.4 691.2 140.2 689.8 140.5 688.8 141.6 688.3 143.0 688.2 144.2 687.9 144.8 687.2 144.9 685.9 144.9 684.5 145.2 683.4 146.2 682.9 147.6 682.9 148.9 683.1 149.8 682.7M100.2 682.7 101.3 682.2 102.4 680.9 103.4 679.7 104.4 679.5 105.4 680.4 106.4 681.8 107.4 682.9 108.5 682.8 109.4 681.7 110.3 680.2 111.2 679.2 112.2 679.4 113.3 680.4 114.6 681.7 115.7 682.1 116.6 681.4 117.3 679.8 117.9 678.4 118.8 677.7 119.9 678.2 121.3 679.3M237.9 575.9 237.4 577.0 236.6 578.2 235.8 579.5 235.6 580.6 236.2 581.5 237.3 582.2 238.8 582.8 239.9 583.4 240.5 584.1 240.5 585.2 240.0 586.5 239.5 588.0 239.4 589.2 240.0 590.1 241.2 590.5 242.7 590.7 244.1 590.8 245.0 591.2 245.4 592.1 245.5 593.5 245.5 595.0 245.7 596.3 246.4 597.1 247.6 597.3 249.0 597.0 250.5 596.6M101.8 609.6 103.2 609.6 104.8 609.4 105.9 609.6 106.4 610.5 106.4 612.1 106.5 613.5 107.2 614.3 108.5 614.2 110.1 613.8 111.4 613.7 112.0 614.5 112.2 615.9 112.4 617.5 112.9 618.4 114.1 618.5 115.7 618.0 117.0 617.9 117.9 618.5M108.4 559.3 109.5 560.2 110.5 560.0 111.4 558.6 112.1 557.1 112.9 556.3 114.0 556.7 115.4 557.8 116.8 558.6 117.8 558.4 118.4 557.1M100.6 676.2 101.6 677.3 102.6 678.0 103.6 677.9 104.6 677.1 105.6 676.0 106.5 675.0 107.5 674.5 108.5 674.9 109.6 675.8 110.7 676.9 111.7 677.5 112.7 677.3M174.4 651.7 174.5 653.0 175.3 653.7 176.9 653.6 178.5 653.4 179.5 653.6 179.9 654.7 179.8 656.3 180.0 657.8 180.8 658.5 182.2 658.2 183.8 657.6 185.0 657.5 185.7 658.2 186.0 659.7 186.4 661.2 187.1 662.1 188.3 661.9 189.8 661.1 191.1 660.5 192.0 660.9 192.5 662.2 193.0 663.8 193.6 664.8 194.7 664.9 196.1 664.1 197.4 663.4 198.5 663.4 199.2 664.5 199.6 666.1 200.1 667.3 201.1 667.7 202.4 667.1 203.8 666.3 205.1 666.2 205.8 667.0 206.1 668.6 206.5 670.0 207.2 670.8 208.4 670.6 210.0 670.0M137.2 689.2 137.2 687.9 137.5 686.8 138.2 686.1 139.4 685.8 140.7 685.7 141.9 685.5 142.6 684.8 143.0 683.8M125.2 606.2 126.4 606.2 127.3 606.8 127.7 607.9 127.9 609.3 128.3 610.6 129.0 611.3 130.1 611.4 131.5 611.3 132.8 611.2 133.8 611.6 134.3 612.6 134.4 614.0 134.4 615.4 134.6 616.5 135.4 617.0 136.7 617.3 138.1 617.5 139.2 618.0 139.8 619.0 139.6 620.2 139.1 621.5 138.7 622.7 138.9 623.6 139.7 624.4 140.9 625.1 142.0 626.0 142.5 627.0 142.2 628.1 141.3 629.1 140.4 630.1M207.6 667.3 208.9 666.5 210.2 665.5 211.3 665.0 212.3 665.3 213.0 666.5 213.7 668.0 214.4 669.2 215.4 669.5 216.5 668.9 217.8 667.9 219.0 667.1 220.0 667.0 220.9 667.9 221.6 669.3 222.3 670.7 223.3 671.3 224.3 671.0 225.5 670.0 226.7 668.9 227.7 668.4 228.6 668.9 229.5 670.0 230.5 671.4M100.9 673.6 101.9 673.1 102.8 672.1 103.6 671.0 104.5 670.2 105.5 669.9 106.6 670.4 107.7 671.2 108.8 672.1 109.8 672.5 110.8 672.3 111.7 671.5 112.6 670.4 113.5 669.4 114.5 669.0 115.5 669.2 116.6 670.0 117.7 670.9 118.7 671.6 119.7 671.6 120.7 671.0 121.6 670.0 122.6 669.0 123.6 668.4 124.6 668.4M107.4 568.4 108.9 567.9 110.0 568.1 110.5 569.1 110.6 570.8 111.0 572.2 111.9 572.9 113.2 572.5 114.6 571.7 115.8 571.1 116.6 571.5 117.3 572.8 118.1 574.4 119.1 575.2 120.2 574.8 121.2 573.6 122.0 572.3 122.8 571.8 123.9 572.2 125.2 573.2 126.7 573.8 127.7 573.4 128.2 572.1 128.3 570.5 128.4 569.2 129.2 568.7M183.9 599.5 184.9 599.1 186.6 599.2 188.1 599.4 189.1 598.9 189.3 597.7 189.1 596.1 189.2 594.6 189.9 593.8 191.3 594.0 192.9 594.6 194.2 595.0 195.0 594.5 195.5 593.2 195.9 591.6 196.7 590.5 197.9 590.5 199.1 591.5 200.2 592.6 201.2 593.1 202.1 592.6 203.1 591.3 204.3 590.1 205.4 589.9 206.3 590.7 207.0 592.2 207.7 593.5 208.5 594.0 209.7 593.4 211.1 592.4 212.4 591.9 213.4 592.3 213.9 593.6M104.5 575.0 105.9 575.4 107.0 576.0 107.5 576.9 107.4 578.0 106.9 579.4M114.3 577.7 115.7 577.2 117.1 576.4 118.2 575.9 119.1 576.1 119.8 577.0 120.7 578.3 121.7 579.4 122.8 579.7 123.9 579.1 124.7 577.8 125.3 576.3 125.9 575.3 126.7 574.9 127.9 575.2 129.3 575.7 130.8 575.8 131.8 575.3 132.2 574.2 132.1 572.7 131.8 571.1 131.9 570.0 132.5 569.3 133.8 569.0 135.3 568.8 136.7 568.5 137.5 567.7 137.6 566.6 137.1 565.2 136.6 563.7 136.5 562.5 137.2 561.7 138.5 561.3 140.1 561.1 141.4 560.9M128.8 606.7 130.1 606.3 131.4 605.8 132.6 605.8 133.4 606.3 134.0 607.4 134.5 608.8 135.0 610.0 135.7 610.7 136.8 610.8 138.1 610.5 139.5 610.0 140.7 609.9 141.6 610.4 142.2 611.4 142.5 612.8 142.8 614.1 143.3 615.1 144.2 615.5 145.4 615.4M164.0 574.9 163.9 573.9 162.8 573.1 161.4 572.2 160.6 571.2 160.9 570.1 162.1 569.1 163.3 568.2 163.8 567.3 163.3 566.3 162.2 565.0 161.5 563.7M234.8 630.7 235.4 629.8 235.4 628.8 234.9 627.8 234.1 626.7 233.5 625.5 233.7 624.4 234.5 623.6 235.7 623.0 236.8 622.4 237.5 621.7 237.6 620.7 237.4 619.4 237.4 618.0 237.9 616.9 238.8 616.4 240.1 616.4 241.4 616.6 242.5 616.7M238.7 657.0 239.3 656.1 239.1 654.8 238.4 653.4 238.0 652.1 238.4 651.3 239.6 650.7 241.1 650.1 242.1 649.4 242.1 648.4 241.5 647.1 240.7 645.8 240.4 644.7 241.1 643.8 242.5 643.2 243.8 642.6 244.5 641.8 244.3 640.7 243.6 639.4 243.0 638.0 243.3 637.0M225.3 640.6 226.0 639.5 227.0 638.1 227.5 636.9 227.1 636.0 225.9 635.3 224.3 634.8 223.2 634.0 223.1 633.0 223.8 631.8 224.9 630.4 225.4 629.3 225.0 628.4 223.7 627.7 222.3 626.9 221.4 625.9 221.6 624.9 222.8 623.8 224.1 622.8 224.8 621.9 224.6 621.0 223.7 619.8 222.6 618.5 222.4 617.3 223.1 616.4 224.6 615.9 226.1 615.7 227.1 615.3 227.3 614.3 227.1 612.8 227.0 611.2 227.5 610.0 228.7 609.8 230.2 610.4 231.6 611.0 232.6 611.1 233.3 610.2 233.9 608.7 234.6 607.3 235.5 606.6 236.6 607.0 237.8 608.2 238.9 609.2 239.9 609.5M173.4 583.6 173.6 582.6 172.8 581.6 171.5 580.5 170.5 579.5 170.6 578.5 171.7 577.5 173.2 576.7 174.1 575.8 174.1 574.8 173.1 573.7 172.1 572.4 171.7 571.2 172.5 570.3 174.0 569.8 175.6 569.4 176.5 568.8 176.4 567.7 175.9 566.2M130.2 617.4 131.8 617.4 133.2 617.7 133.9 618.5 133.7 619.8 133.0 621.3 132.6 622.6 132.9 623.5 134.1 624.0 135.6 624.6 136.7 625.4 136.7 626.5 135.9 627.7 134.9 628.9 134.4 629.9 134.8 630.9 136.0 631.7 137.3 632.6 137.9 633.6 137.4 634.6 136.3 635.7 135.2 636.8 134.9 637.8 135.6 638.7 136.9 639.7 138.0 640.6 138.3 641.5 137.6 642.6 136.4 643.7 135.6 644.9 135.8 645.9 136.9 646.7 138.3 647.5 139.3 648.2 139.3 649.2 138.6 650.4 137.8 651.8 137.5 653.0 138.2 653.9 139.7 654.3 141.2 654.6 142.1 655.2 142.1 656.3M213.0 672.1 214.2 672.1 215.5 672.0 216.6 672.2 217.4 673.0 217.7 674.1 217.9 675.4 218.1 676.6 218.7 677.3M208.2 640.5 208.0 639.4 207.1 638.3 206.1 637.2 205.3 636.1 205.2 635.2 205.7 634.2 206.8 633.2 208.0 632.3 208.7 631.3 208.6 630.3 207.9 629.3 206.8 628.2 205.8 627.2 205.4 626.1 205.7 625.1 206.7 624.2 208.0 623.3M100.4 691.9 101.5 690.6 102.6 689.8 103.5 689.9 104.5 691.0 105.5 692.3 106.6 693.1 107.6 692.8 108.5 691.6 109.3 690.2 110.1 689.2 111.1 689.3 112.3 690.2 113.7 691.3 114.9 691.7 115.8 691.1 116.3 689.6 116.7 688.0 117.4 687.0 118.4 687.0 119.8 687.7 121.3 688.4 122.5 688.5 123.2 687.6M121.0 634.8 121.1 636.2 121.4 637.2 122.3 637.7 123.6 637.8 125.1 637.9 126.3 638.2 126.9 639.1 126.9 640.3 126.6 641.7 126.4 643.1 126.6 644.1 127.5 644.7 128.9 645.0 130.3 645.4 131.3 645.9 131.8 646.8 131.6 648.1 131.2 649.5 130.9 650.8 131.3 651.8 132.3 652.4 133.7 652.6 135.1 652.9M101.4 653.1 101.8 652.1 102.1 650.8 102.6 649.6 103.4 648.9 104.6 649.0 105.9 649.4 107.1 649.7 108.0 649.5 108.8 648.7 109.5 647.5 110.4 646.6 111.5 646.5 112.6 647.0 113.6 648.0 114.5 648.8 115.4 649.0 116.4 648.5 117.6 647.7 118.9 647.4 119.9 647.7 120.6 648.7 121.1 649.9 121.6 651.0 122.5 651.4 123.7 651.4 125.0 651.1M169.8 614.9 170.7 613.7 171.6 613.1 172.6 613.5 173.8 614.5 175.0 615.3M186.1 582.5 186.3 581.4 186.3 579.9 186.4 578.5 187.1 577.6 188.4 577.6 189.8 578.1 191.1 578.5 192.0 578.4 192.6 577.4 193.3 576.0 194.2 574.9 195.3 574.6 196.4 575.3 197.3 576.5 198.2 577.5 199.0 577.7 200.1 577.2 201.5 576.3 202.8 575.8 203.8 576.2 204.4 577.4 204.6 578.9 205.0 580.1 205.8 580.7M166.8 626.0 168.3 626.0 169.7 626.1 170.6 626.6 170.9 627.7 170.8 629.1 170.7 630.6 170.9 631.8 171.7 632.5 172.9 632.7 174.4 632.5 175.8 632.4 176.8 632.7 177.3 633.6 177.5 634.9 177.8 636.5 178.3 637.7 179.3 638.2 180.5 638.0 181.8 637.3M129.6 596.1 130.5 595.4 131.4 595.2 132.4 595.6 133.5 596.2 134.7 596.8 135.9 596.9 136.9 596.4 137.5 595.3 137.9 594.0 138.2 592.7 138.6 591.8 139.4 591.3 140.5 591.1 141.8 590.8 143.0 590.3 143.7 589.4 143.8 588.3 143.3 587.0 142.8 585.8 142.4 584.7 142.5 583.8 143.2 582.9 144.3 582.1 145.3 581.2 145.9 580.2 145.9 579.2 145.4 578.1 144.5 577.1 143.7 576.0 143.4 575.0 143.7 574.0 144.6 573.1 145.6 572.2 146.4 571.2 146.7 570.3 146.4 569.3 145.7 568.2 145.0 567.0 144.6 565.9 144.8 564.8M174.3 621.9 175.5 621.0 176.5 620.4 177.4 620.6 178.4 621.6 179.4 622.7 180.5 623.0 181.5 622.4 182.3 621.1 182.9 619.8 183.6 619.1 184.7 619.3 186.1 619.8 187.5 620.1 188.4 619.6 188.8 618.3 188.8 616.7 189.0 615.5 189.8 614.9 191.1 614.9 192.6 615.0 193.8 614.7 194.2 613.7 194.2 612.3 194.0 610.8 194.4 609.8 195.4 609.4 196.9 609.4 198.3 609.4 199.2 608.9 199.4 607.7 199.4 606.2 199.6 604.8 200.4 604.1 201.8 604.2 203.2 604.7 204.4 604.8 205.1 604.2 205.6 602.8 206.1 601.4 206.9 600.5 208.0 600.5 209.3 601.3M149.6 603.1 150.1 601.8 150.6 600.8 151.3 600.4 152.5 600.3 153.8 600.2 155.0 599.8 155.7 599.0 155.9 597.9 155.6 596.5 155.2 595.3 155.0 594.3 155.4 593.4 156.4 592.6 157.5 591.8 158.2 590.8M246.1 577.1 247.2 577.6 247.6 578.5 247.4 579.8 247.0 581.2 247.2 582.3 248.2 582.9 249.7 583.0 251.0 583.2 251.7 583.9 251.8 585.1 251.7 586.6 252.1 587.8 253.1 588.2 254.5 588.1 255.8 587.9 256.8 588.2 257.2 589.3 257.5 590.8 258.1 591.9 259.1 592.3 260.4 591.9 261.7 591.3 262.7 591.3 263.5 592.1 264.1 593.5M124.2 613.3 124.7 614.2 124.9 615.4 124.9 616.8 125.1 618.0 125.6 618.8 126.5 619.3 127.7 619.6 129.0 620.0 130.0 620.6 130.5 621.5 130.5 622.6 130.2 623.9 129.9 625.1 130.0 626.2 130.6 627.0 131.6 627.6 132.8 628.3 133.7 629.1 134.1 630.1M165.7 672.8 166.4 674.2 167.1 675.3 168.0 675.8 169.1 675.5 170.4 674.6 171.7 673.9 172.8 673.6 173.7 674.1 174.4 675.3 174.9 676.8 175.5 678.0 176.3 678.6 177.4 678.4 178.8 677.8 180.2 677.3 181.4 677.2 182.2 677.9 182.6 679.3 182.8 680.8 183.1 682.1M255.1 597.7 255.6 599.0 256.2 600.0 257.2 600.3 258.5 599.9 259.8 599.5 260.8 599.6 261.5 600.4 262.0 601.8 262.6 602.9 263.5 603.3M126.4 631.4 127.7 631.8 129.0 632.3 129.7 633.1 129.9 634.2 129.5 635.4 129.0 636.7 128.6 637.9 128.9 638.9 129.7 639.6 131.0 640.2 132.2 640.9 133.0 641.6 133.1 642.6 132.7 643.8M246.6 582.5 246.5 583.7 246.3 585.0 246.3 586.3 246.8 587.2 247.8 587.7 249.2 587.9 250.5 588.0 251.5 588.3 252.1 589.1 252.3 590.4 252.5 591.7 252.9 592.9 253.7 593.6 254.8 593.8 256.1 593.5 257.4 593.3 258.5 593.4 259.2 594.0 259.8 595.1 260.3 596.4 261.0 597.5 261.9 597.9 263.0 597.8 264.3 597.3M255.3 578.6 256.7 578.4 257.8 578.5 258.4 579.2 258.8 580.5 259.1 582.0 259.7 583.1 260.7 583.5 262.0 583.1 263.3 582.4 264.5 581.8M130.0 678.8 131.1 678.9 132.1 678.7 132.8 677.9 133.5 676.8 134.2 675.8 135.0 675.1 136.0 674.9 137.2 675.2 138.4 675.7 139.5 676.0 140.5 675.9M239.4 638.5 238.7 637.4 238.8 636.3 239.7 635.5 241.1 634.8 242.3 634.2 242.9 633.4 242.8 632.3 242.2 631.0 241.6 629.6 241.6 628.3 242.4 627.6 243.8 627.3 245.3 627.2 246.5 627.1 247.1 626.4 247.3 625.2 247.4 623.6 247.9 622.3 248.8 621.6 250.1 621.8 251.4 622.6M108.2 565.5 108.9 566.5 109.9 566.9 111.0 566.6 112.2 565.9 113.4 565.3 114.3 565.2 115.2 565.7 116.2 566.6 117.2 567.4 118.3 567.8 119.3 567.4 120.2 566.4 120.9 565.2 121.6 564.3 122.5 564.0 123.6 564.2 125.0 564.6 126.2 564.7 127.2 564.3 127.8 563.3 128.0 562.0 128.3 560.7 128.8 559.8 129.8 559.5 131.1 559.4 132.4 559.4M100.6 621.1 101.7 620.2 102.9 619.2 104.0 618.7 105.0 619.0 105.8 620.1 106.5 621.5 107.2 622.6 108.1 623.0 109.2 622.6 110.5 621.8 111.9 621.3 112.9 621.5 113.6 622.4 114.0 623.9 114.4 625.3 115.0 626.1 116.1 626.2 117.5 625.8 119.0 625.5M101.3 662.4 102.3 662.1 103.0 661.3 103.6 660.1 104.2 658.9 104.9 658.0 105.9 657.7 107.1 658.0 108.3 658.6 109.5 659.3 110.5 659.5 111.4 659.2 112.3 658.4 113.2 657.4 114.2 656.6 115.3 656.3 116.3 656.7 117.2 657.7 118.1 658.7 119.0 659.5 119.9 659.8 120.9 659.5 122.1 658.8 123.4 658.2 124.5 658.0 125.5 658.4 126.2 659.4 126.8 660.7 127.4 661.8M158.2 605.8 159.4 606.2 160.7 606.9 162.1 607.3 163.1 606.9 163.7 605.8 163.9 604.3 163.9 602.8 164.2 601.8 165.0 601.3 166.3 601.2 167.8 601.0 169.0 600.4 169.4 599.4 169.1 598.1 168.4 596.8 167.9 595.6 168.0 594.6 168.8 593.8 170.1 593.1 171.4 592.3 172.1 591.4 171.9 590.3 171.0 589.2 169.9 588.1 169.2 587.1M100.4 614.7 101.9 613.8 103.1 613.7 103.7 614.6 104.1 616.3 104.5 617.8 105.3 618.3 106.7 617.8 108.2 616.9 109.4 616.7 110.2 617.5M105.1 642.0 106.0 641.9 106.6 640.9 107.1 639.5 107.9 638.1 108.9 637.6 110.0 638.0 111.1 639.2 112.1 640.4 113.0 641.0 113.9 640.7 115.1 639.8 116.4 639.0 117.6 638.7 118.5 639.4 119.0 640.9 119.2 642.5 119.6 643.6 120.5 644.0 121.8 643.8 123.4 643.4 124.8 643.4 125.6 644.1 125.7 645.5 125.5 647.1 125.5 648.4 126.0 649.2M166.0 629.8 166.5 630.7 166.2 631.9 165.4 633.2 164.8 634.5 165.0 635.4 166.1 636.1 167.5 636.8 168.6 637.5 168.8 638.5 168.3 639.7 167.4 641.0M107.7 598.1 108.9 598.6 109.7 599.3 110.1 600.2 110.0 601.3 109.8 602.7 109.8 603.9 110.2 604.9 111.2 605.5 112.4 605.7 113.8 605.9 114.9 606.2 115.6 606.9 115.9 607.9 116.0 609.2 116.2 610.5 116.6 611.5 117.5 612.1 118.7 612.2 120.0 612.3M213.4 588.0 213.4 589.7 213.5 591.2 214.1 592.1 215.2 592.3 216.8 591.9 218.3 591.4 219.4 591.6 220.0 592.5 220.1 594.0 220.3 595.6 220.8 596.7 221.9 597.0 223.3 596.5 224.8 595.9 226.0 595.7 226.8 596.3 227.2 597.7 227.6 599.3 228.1 600.5 229.1 600.8 230.4 600.3 231.8 599.5 233.1 598.9M223.5 653.5 222.6 652.1 221.8 650.9 222.0 650.0 223.2 649.3 224.7 648.4 225.5 647.3 225.0 646.3 223.7 645.3 222.4 644.5 222.1 643.6 222.8 642.5 223.9 641.2 224.6 640.0 224.1 639.1 222.6 638.4 221.1 637.9 220.4 637.1 220.7 635.9 221.7 634.5 222.4 633.2 222.1 632.3M107.1 667.2 108.2 668.0 109.1 667.6 109.9 666.3 110.8 664.8 111.7 664.0 112.8 664.4 113.9 665.6 114.9 666.8M122.6 571.5 123.5 570.9 124.2 569.6 124.7 568.4 125.3 567.6 126.4 567.5 127.7 567.7 129.0 567.8 129.9 567.3 130.3 566.1 130.3 564.7 130.5 563.4 131.2 562.7 132.4 562.5 133.8 562.4 134.9 562.1 135.5 561.2 135.5 559.9 135.4 558.5M161.9 648.4 163.1 649.3 163.8 650.1 163.6 651.1 162.9 652.3 162.2 653.6 162.1 654.7 162.9 655.6 164.3 656.1 165.7 656.4 166.6 657.0 166.7 658.0 166.4 659.4 166.2 660.9 166.6 661.9 167.7 662.4 169.2 662.3 170.6 662.3 171.6 662.6 172.0 663.6M221.3 629.2 219.9 628.5 218.5 627.8 217.9 626.8 218.3 625.7 219.4 624.5 220.5 623.5 220.9 622.6 220.4 621.6 219.3 620.5 218.2 619.3 218.0 618.2 218.8 617.2 220.2 616.7 221.7 616.3 222.5 615.7 222.4 614.6 222.0 613.1 221.8 611.5 222.2 610.4 223.4 610.1 224.9 610.4M244.3 605.4 245.1 606.7 246.0 607.6 246.9 607.7 248.1 607.0 249.3 606.1 250.5 605.5 251.5 605.6 252.3 606.5 253.0 607.8 253.7 609.1M188.4 643.2 189.6 644.1 190.7 643.9 191.5 642.7 191.9 641.0 192.3 639.7 193.1 639.3 194.4 639.6 196.1 640.1 197.5 640.0M141.4 633.6 141.2 634.6 140.4 635.6 139.4 636.5 138.7 637.5 138.6 638.5 139.1 639.5M154.2 638.4 154.8 639.5 154.8 640.6 154.1 641.4 152.9 642.2 151.6 643.0 150.8 643.9 150.6 644.9 151.3 646.0 152.3 647.2 153.3 648.2 153.8 649.1 153.7 650.1 152.9 651.1 151.9 652.2 151.2 653.4 151.1 654.5 151.9 655.4 153.2 656.1 154.6 656.5 155.7 657.1 156.2 657.8 156.1 658.9 155.8 660.4 155.5 661.9 155.8 663.1 156.6 663.8 157.9 664.0 159.4 663.8 160.7 663.6 161.7 663.9M233.6 575.2 232.6 576.4 231.7 577.5 231.6 578.6 232.4 579.5 233.7 580.2 235.0 580.9 235.5 581.8 235.1 582.9 234.2 584.2 233.6 585.5 233.8 586.6 234.8 587.3 236.4 587.7 237.6 588.1 238.2 588.8 238.1 590.1 237.6 591.6 237.5 593.0 238.1 593.9 239.4 594.1M185.1 637.9 186.2 637.2 187.0 635.9 187.8 634.9 188.6 634.6 189.8 635.0 191.2 635.7 192.5 635.8 193.3 635.1 193.6 633.7 193.6 632.2 193.8 631.2 194.8 630.8 196.2 630.6 197.7 630.4 198.5 629.7 198.5 628.5 198.0 627.1 197.6 625.8 197.9 624.9 199.0 624.3 200.5 623.8 201.6 623.2 201.8 622.2 201.3 620.9 200.7 619.5M108.2 585.6 109.1 586.3 110.4 586.7 111.7 587.2 112.4 587.9 112.5 589.0 112.2 590.3 112.1 591.7 112.6 592.6 113.7 593.1M171.5 690.6 172.4 689.7 173.4 688.4 174.5 687.8 175.5 688.2 176.4 689.5 177.1 690.8 177.9 691.2 179.1 690.7 180.5 689.9 181.8 689.5 182.6 690.3M154.7 587.5 153.5 586.6 153.0 585.7 153.4 584.7 154.4 583.5 155.4 582.3 155.9 581.2 155.6 580.2 154.4 579.4 153.0 578.7 151.9 577.9 151.6 576.9 152.1 575.8 153.1 574.6M100.4 712.8 101.7 713.2 103.0 713.5 104.1 713.4 104.8 712.7 105.3 711.5 105.7 710.1 106.3 709.1 107.2 708.7 108.4 708.9 109.8 709.2 111.0 709.3 111.9 708.9 112.5 707.8 112.8 706.4 113.1 705.2 113.8 704.4M168.1 577.3 167.5 576.2 167.6 575.2 168.5 574.2 169.7 573.3 170.7 572.4 171.1 571.5 170.7 570.5 169.9 569.3 169.1 568.0 168.8 566.8 169.2 565.8 170.3 565.1M255.3 620.6 256.4 620.2 257.5 620.6 258.4 621.7 259.1 623.1 259.7 624.1 260.6 624.5 261.7 624.3 263.0 623.6 264.5 623.1M133.6 657.1 135.1 657.0 136.2 657.2 136.8 658.0 136.8 659.4 136.9 660.9 137.4 661.9 138.5 662.2 140.0 661.9 141.4 661.6 142.3 661.9 142.8 663.0 143.1 664.5 143.5 665.8 144.4 666.4 145.6 666.2 147.0 665.6 148.2 665.3 149.1 665.7 149.7 666.9 150.2 668.3 150.9 669.3 152.0 669.4 153.2 668.8M100.1 698.1 101.1 699.3 102.2 699.9 103.2 699.5 104.1 698.4 104.9 697.3 105.9 696.9 107.0 697.5 108.2 698.4 109.4 698.9 110.3 698.4 111.0 697.1 111.6 695.8 112.4 695.2 113.5 695.5M153.3 622.1 154.9 622.4 156.1 623.0 156.3 624.1 155.5 625.4 154.5 626.7 154.1 627.7 154.8 628.6 156.1 629.4 157.3 630.4 157.5 631.4 156.6 632.5 155.2 633.4 154.2 634.3 154.3 635.3M172.9 656.7 174.2 657.0 175.8 656.9 177.2 656.9 177.9 657.5 178.0 658.9 177.9 660.5 178.2 661.8 179.2 662.2 180.6 662.0 182.1 661.6 183.3 661.7 183.8 662.6 184.0 664.2 184.2 665.7 184.9 666.5 186.1 666.4 187.6 665.9 189.0 665.7M145.5 678.0 146.9 678.5 148.2 679.1 149.3 679.3 150.2 678.8 150.8 677.6 151.4 676.3 152.2 675.1 153.2 674.7 154.3 675.0 155.5 675.9 156.6 676.9 157.6 677.4 158.6 677.2M177.5 586.2 177.7 585.3 177.2 584.1 176.3 582.9 175.6 581.7 175.6 580.6 176.5 579.8 177.9 579.2 179.3 578.6 180.0 577.9 180.1 576.9 179.6 575.6 179.1 574.1 179.1 572.9 179.8 572.1M204.8 669.9 205.5 670.7 205.6 672.1 205.6 673.6 206.0 674.5 207.0 674.9 208.4 675.0 209.7 675.5 210.1 676.4 209.8 677.8 209.3 679.1 209.2 680.2 210.0 680.9 211.4 681.5M174.0 611.7 175.2 611.8 176.0 611.1 176.4 609.7 176.7 608.3 177.2 607.4 178.2 607.1 179.6 607.3 181.0 607.4 182.0 606.9 182.4 605.9 182.4 604.4 182.5 603.1M175.8 574.0 177.3 573.5 178.3 572.9 178.5 571.9 178.0 570.6 177.6 569.1 177.6 567.8 178.4 567.1 179.8 566.9 181.4 567.1M168.1 644.3 168.9 645.0 170.2 645.6 171.5 646.2 172.1 646.9 172.1 648.0 171.6 649.4M132.4 592.4 133.4 591.8 133.9 590.5 134.2 589.2 134.6 588.2 135.5 587.9 136.9 587.9M99.0 646.9 100.2 646.7 101.9 647.2 103.4 647.5 104.2 647.0 104.4 645.6 104.6 643.9 105.3 642.8 106.5 642.9 108.0 643.9 109.2 644.8 110.1 644.7 110.9 643.5 111.8 641.9 112.8 641.1 113.9 641.6 114.8 643.1M204.9 597.3 205.8 597.5 206.8 596.9 207.8 595.9 208.9 595.0 209.9 594.9 210.9 595.7M227.1 627.0 225.8 626.1 224.8 625.1 224.7 624.1 225.6 623.0 227.0 622.2 228.2 621.4 228.7 620.6 228.3 619.6 227.5 618.2 226.9 616.7 227.1 615.5 228.2 614.9 229.8 614.9 231.3 615.0M214.0 596.8 215.0 596.6 216.0 597.1 216.8 598.1 217.6 599.3 218.4 600.2M117.2 591.1 118.7 590.7 119.9 590.6 120.6 591.2 121.0 592.5 121.5 593.9 122.3 594.8 123.5 594.7 124.8 593.9 125.9 593.0 126.9 592.9M159.1 700.2 159.5 699.1 160.3 698.4 161.4 698.1 162.6 698.2 163.9 698.4 165.0 698.3 165.8 697.8 166.4 696.9 167.0 695.8 167.8 694.8 168.7 694.2 169.8 694.3 170.9 694.8 172.0 695.4 173.0 695.9 174.0 695.9 174.9 695.5 176.0 694.8 177.1 694.1M190.0 579.5 190.9 578.9 192.1 579.1 193.4 579.8 194.6 580.7 195.6 581.1 196.4 580.8 197.4 579.8 198.5 578.7M173.9 594.1 173.3 592.9 172.7 591.8 172.5 590.7 172.9 589.8 173.8 589.0M232.9 627.8 232.4 626.8 231.3 625.8 230.3 624.6 230.0 623.5 230.9 622.6 232.4 622.0 233.8 621.5 234.5 620.8 234.3 619.7 233.7 618.1 233.5 616.6 234.1 615.6 235.4 615.4 237.0 615.7 238.3 616.0 239.1 615.5M187.3 604.9 187.5 603.7 187.6 602.3 187.7 601.1 188.3 600.2 189.3 599.8 190.6 599.7 192.0 599.8 193.1 599.6 193.8 599.0 194.2 597.9 194.5 596.5 195.1 595.3 195.9 594.6 197.0 594.6 198.3 595.0M198.8 661.0 199.6 662.1 200.5 663.1 201.5 663.5 202.6 663.2 203.7 662.4 204.7 661.5 205.7 660.9 206.7 661.0 207.6 661.7 208.7 662.6 209.8 663.3 210.9 663.4 211.8 662.7 212.6 661.6 213.3 660.4 214.0 659.6 215.0 659.4 216.1 659.8 217.5 660.2 218.8 660.3M176.4 631.6 177.7 631.3 179.0 630.7 180.0 630.5 180.8 631.1 181.6 632.3 182.5 633.3 183.6 633.5 184.6 632.8 185.5 631.7 186.3 631.0 187.3 631.1 188.6 631.7 189.9 632.1 191.0 631.8 191.5 630.7 191.7 629.3 192.0 628.2 192.8 627.7 194.1 627.6 195.6 627.4M152.6 570.9 153.6 569.9 154.3 568.9 154.4 568.0 153.8 567.0 152.9 565.9 152.1 564.7 152.0 563.6 152.7 562.6 153.9 562.0M240.7 611.4 242.0 612.1 243.1 612.7 244.1 612.8 245.0 612.3 245.9 611.2 246.8 610.3 247.9 609.9 248.9 610.3 249.9 611.2 250.8 612.2 251.7 612.7M188.6 584.6 190.0 584.7 191.4 585.3 192.7 585.7 193.7 585.7 194.4 585.0 195.1 583.8 195.9 582.5 196.9 581.8 198.0 581.9 199.1 582.8 199.9 584.1 200.7 585.2 201.6 585.7 202.6 585.5 203.8 584.8 205.2 584.1 206.4 583.9 207.3 584.4 207.9 585.6 208.2 587.0 208.6 588.4M164.5 574.0 164.5 573.0 165.4 571.9 166.6 571.0 167.6 570.1 167.7 569.2 167.0 568.1 166.0 566.8 165.3 565.6 165.6 564.5 166.8 563.8M181.9 592.4 182.8 591.8 183.2 590.9 183.1 589.7 182.8 588.3 182.8 587.0 183.2 586.1 184.2 585.5 185.5 585.3 186.8 585.2M117.1 714.2 117.6 713.2 117.6 711.8 117.6 710.3 117.9 709.2 118.7 708.6 120.1 708.6 121.6 708.7 122.9 708.6 123.7 707.9M224.7 665.3 225.7 665.1 226.7 665.6 227.9 666.4 229.1 666.8 230.1 666.4 230.8 665.3 231.3 664.1 231.9 663.1 232.8 662.8 234.1 663.0 235.5 663.2 236.7 663.0 237.3 662.1 237.4 660.8 237.4 659.4 237.7 658.4M161.7 685.4 163.1 686.0 164.1 686.2 164.9 685.6 165.6 684.4 166.3 683.0 167.1 681.9 168.2 681.6M128.8 584.1 129.2 582.7 129.7 581.7 130.5 581.4 131.8 581.5 133.3 581.7 134.6 581.5 135.5 580.9 135.7 579.7 135.4 578.2 135.0 576.8 134.8 575.6 135.3 574.8 136.5 574.3 137.9 573.8M255.2 612.0 256.2 612.1 257.4 611.5 258.7 610.8 259.9 610.7 260.7 611.5 261.1 612.9 261.6 614.3 262.3 614.9 263.5 614.8M257.7 584.5 258.1 585.6 258.3 587.2 258.7 588.7 259.5 589.5 260.7 589.3 262.1 588.6 263.4 587.8 264.5 587.6M191.7 588.8 193.0 589.1 193.9 589.1 194.7 588.4 195.3 587.2 196.1 586.1 197.1 585.4 198.2 585.4M209.4 571.6 210.8 571.7 212.0 572.1 212.7 572.9 212.8 574.1 212.5 575.4 212.5 576.6 213.1 577.4M135.9 667.7 136.9 667.8 138.2 667.1 139.4 666.3 140.5 666.0 141.4 666.7 142.1 668.0 142.8 669.2 143.7 669.7M211.1 676.2 212.3 676.5 213.6 676.9 214.6 677.5 215.0 678.5 214.8 679.7M162.0 612.9 163.0 611.6 164.0 610.8 164.9 611.0 166.0 612.0 167.1 613.2M228.9 660.9 230.1 660.9 231.5 660.9 232.5 660.5 233.0 659.5 233.0 658.1 232.8 656.8M125.9 685.9 126.3 684.6 126.7 683.4 127.6 682.9 128.8 683.0 130.2 683.3 131.3 683.3M190.4 650.5 191.3 649.3 192.2 648.7 193.2 649.1 194.3 650.0 195.6 650.8 196.8 650.8 197.6 649.8 197.9 648.2 198.1 646.8 198.6 646.0 199.7 645.9 201.3 646.0 202.8 646.0 203.8 645.3 203.9 644.0 203.3 642.6M250.5 577.5 250.1 579.0 250.0 580.4 250.5 581.4 251.6 581.8 253.1 581.7 254.6 581.6 255.7 581.8M245.1 629.9 246.7 629.9 248.2 630.1 249.1 629.7 249.4 628.6 249.6 627.1 250.2 625.8 251.3 625.6 252.6 626.2 253.9 627.2 254.9 627.6 255.7 627.1 256.7 625.9 257.7 624.9 258.8 624.9 259.8 625.9 260.4 627.3 261.1 628.3 262.1 628.4 263.4 627.7M206.9 611.2 208.2 610.9 209.6 610.8 210.5 610.4 211.0 609.6 211.3 608.3 211.5 607.0 212.1 605.9 213.0 605.5M101.4 600.1 101.2 601.1 100.7 602.4 100.3 603.8 100.3 604.9 101.0 605.8M156.1 697.7 156.4 696.5 157.5 696.2 159.1 696.4 160.6 696.7 161.6 696.4 161.9 695.3 162.0 693.7 162.3 692.2 163.2 691.6 164.5 691.9 166.0 692.6 167.2 693.1 168.0 692.7 168.6 691.4M246.6 620.5 247.8 620.8 248.6 620.3 249.2 619.1 250.0 617.9 250.9 617.2 252.1 617.6 253.1 618.7 254.1 619.7 255.0 619.9 256.1 619.3 257.2 618.3M191.6 610.0 193.1 610.0 194.0 609.6 194.3 608.4 194.2 606.9 194.3 605.5M150.0 596.5 151.1 596.2 152.6 595.9 154.0 595.4 154.6 594.4 154.2 593.2 153.2 591.9 152.3 590.8M100.5 555.5 101.5 555.6 102.4 556.3 103.4 557.2 104.4 558.0 105.5 558.2M217.8 585.5 218.1 586.5 219.2 587.0 220.7 587.2 222.0 587.5 222.7 588.2 222.7 589.5 222.4 591.0 222.4 592.4M140.8 708.2 141.8 707.6 142.0 706.6 141.8 705.1 141.5 703.8 141.9 702.8M140.1 597.3 141.4 597.5 142.6 597.5 143.6 597.1 144.2 596.1 144.4 594.8 144.3 593.5 144.2 592.4 144.6 591.5 145.5 590.9 146.6 590.3 147.6 589.5 148.2 588.6 148.3 587.5 147.7 586.4 147.0 585.3 146.5 584.3 146.4 583.3M142.6 566.3 142.5 565.3 141.8 563.9 141.2 562.5 141.1 561.3 141.8 560.5 143.2 560.1M125.5 705.6 126.9 705.6 128.1 705.2 128.6 704.4 128.7 703.1 128.4 701.6 128.4 700.3 128.8 699.4 129.9 699.0 131.3 698.8 132.7 698.6 133.7 698.0 134.0 697.0 133.8 695.7 133.5 694.2 133.5 693.0 134.1 692.2M192.8 680.1 192.8 681.3 192.3 682.9 191.8 684.3 192.0 685.4 193.0 685.9 194.5 686.2 196.1 686.6 196.9 687.4 196.8 688.5M118.9 622.8 120.2 622.8 121.3 623.1 121.9 624.0 122.0 625.3 122.0 626.7 122.3 627.7 123.1 628.3 124.3 628.6M100.2 694.0 101.1 695.1 102.1 696.0 103.1 696.4 104.1 695.9 105.1 694.9 106.0 693.9 106.9 693.2 107.9 693.3 109.0 693.9M222.3 574.2 223.0 575.1 224.2 575.8 225.3 576.6 225.9 577.5 225.8 578.5 225.1 579.7M114.9 595.4 114.8 596.8 114.5 598.3 114.7 599.5 115.7 600.1 117.1 600.0 118.6 599.9 119.7 600.1 120.1 601.1 120.2 602.6 120.3 604.1 120.9 605.0 122.1 605.1M208.8 581.7 208.9 583.1 209.2 584.3 210.0 584.9 211.2 585.0 212.6 585.0M187.5 681.1 188.6 681.5 189.3 682.3 189.4 683.5 189.3 684.9 189.4 686.1 189.9 686.8M249.2 643.6 250.7 643.6 252.2 643.8 253.2 643.5 253.6 642.5 253.7 641.0 254.1 639.5 254.9 638.7M160.3 621.4 161.6 621.5 163.0 621.5 164.1 622.0 164.6 622.9 164.5 624.3M130.9 661.1 131.4 662.1 132.3 662.7 133.4 662.7 134.7 662.3 136.0 662.1M196.4 666.3 196.8 667.6 197.0 669.1 197.4 670.2 198.4 670.5 199.9 670.2 201.3 670.0M215.4 572.6 216.8 573.0 217.8 573.7 218.2 574.7 217.9 575.9 217.2 577.3M121.9 699.6 122.0 698.1 122.0 696.6 122.4 695.5 123.4 695.2 125.0 695.4M168.0 669.8 169.4 669.2 170.4 669.2 171.1 670.1 171.6 671.6 172.0 673.0 172.8 673.8M126.3 581.4 127.4 581.5 128.2 580.7 128.7 579.2 129.0 577.9 129.7 577.3 131.0 577.4M118.4 666.5 119.4 665.4 120.5 664.7 121.5 664.8 122.5 665.8 123.4 667.0 124.3 668.0 125.2 668.4M185.4 640.4 186.5 641.2 187.6 640.9 188.5 639.7 189.2 638.3 189.9 637.4 190.8 637.3M186.4 623.6 186.9 622.3 187.4 621.3 188.3 621.0 189.5 621.0 190.9 621.1 192.1 620.9 192.8 620.2 193.1 619.0 193.1 617.6M188.7 576.0 189.0 574.6 189.4 573.0 190.2 572.0 191.3 571.9 192.6 572.7 193.8 573.8 194.8 574.6 195.7 574.6 196.6 573.8M227.8 635.3 228.7 634.0 229.5 632.8 229.6 631.8 228.9 630.9 227.7 630.2M128.5 666.7 129.5 666.9 130.4 667.9 131.3 669.2 132.2 670.2 133.2 670.4M208.0 643.2 208.5 642.3 209.6 641.4 210.8 640.5 211.3 639.5 211.0 638.4M143.2 699.3 143.1 698.1 143.7 697.3 145.1 696.9 146.6 696.7 147.8 696.3 148.3 695.4 148.1 694.1 147.6 692.5 147.5 691.2 148.1 690.4 149.5 690.1 151.1 690.2 152.4 690.0 153.1 689.3 153.1 688.1 153.0 686.5 153.2 685.1M197.3 603.3 198.9 603.8 200.0 603.8 200.6 602.9 200.8 601.3 201.3 599.9 202.1 599.2M220.5 671.1 221.5 671.4 222.2 672.3 222.5 673.7 222.7 675.1 223.2 676.3"/></defs>
<use href="#meshp" stroke="#5a1030" stroke-width="2.2" transform="translate(0.9,1.0)"/>
<defs><linearGradient id="redln" x1="100" y1="0" x2="265" y2="0" gradientUnits="userSpaceOnUse"><stop offset="0" stop-color="#e0304f" stop-opacity="0.15"/><stop offset="0.5" stop-color="#e0304f" stop-opacity="0.8"/><stop offset="1" stop-color="#e0304f" stop-opacity="1"/></linearGradient></defs>
<use href="#meshp" stroke="url(#redln)" stroke-width="1.4" transform="translate(1.6,-1.4)"/>
<use href="#meshp" stroke="#f8cedb" stroke-width="1.6"/>
</g>

 <path d="M94,549 L266,578" stroke="#c8163c" stroke-width="2.5"/>
 <path d="M96,551 L266,580 L264,640" fill="none" stroke="#f1e4ee" stroke-width="1.5"/>
 <path d="M99,764 C140,748 185,730 223,714" fill="none" stroke="#f1e4ee" stroke-width="2"/>
 <path d="M88,543 L96,543 L98,797 L90,797 Z" fill="#b81a3a"/>
 <path d="M95,545 L96.5,797" stroke="#f6cbd8" stroke-width="1.3"/>
 <path d="M89.5,545 L91,797" stroke="#e88aa0" stroke-width="0.8"/>
</g>
<!-- BENCH PEOPLE -->
<g id="bench">
 <defs>
  <g id="benchshapes">
   <path d="M231.9,744 L252,716 L300,710 L337,716 L292,754.4 Z"/>
   <path d="M284,657 C290,654 305,654 309,658 C312,670 312,695 309,708 C305,713 295,713 290,711 C286,700 284,680 284,657 Z"/>
   <path d="M247,668 L244,656 L246,645 L252,646 L254,660 L255,668 Z"/>
   <path d="M250,666 C258,662 278,662 287,669 C291,680 292,700 290,712 C288,720 275,723 262,722 C250,721 243,716 241,708 C240,695 243,678 250,666 Z"/>
   <path d="M250,667 L236,672 L227,670 L224,677 L232,691 L240,690 L252,680 Z"/>
   <path d="M242,706 L262,716 L256,728 L238,735 L224,718 L226,710 Z"/>
   <path d="M219,714 L235,716 L236,748 L226,750 L222,735 Z"/>
  </g>
 </defs>
 <use href="#benchshapes" fill="#ffffff" stroke="#ffffff" stroke-width="1.5" transform="translate(1.5,1.8)"/>
 <use href="#benchshapes" fill="#fff1f6" stroke="#7d1a2e" stroke-width="1.2" stroke-linejoin="round"/>
 <path d="M231,745 L292,755.3 L337,717" fill="none" stroke="#c0163a" stroke-width="3.5"/>
 <g stroke="#7d1a2e" stroke-width="2.2" fill="none">
  <path d="M236.5,749 L237.5,777 M288.5,756 L289,782.5 M332,719 L332,747"/>
 </g>
 <g stroke="#f4e4ee" stroke-width="1.1" fill="none">
  <path d="M238.5,749 L239.5,777 M290.5,756 L291,782.5 M334,719 L334,747"/>
 </g>
 <g fill="none" stroke="#7d1a2e" stroke-width="1.2">
  <path d="M246,716 C255,722 270,724 285,720 M290,712 C295,714 303,713 308,710"/>
 </g>
 <ellipse cx="296" cy="645" rx="13.5" ry="12" fill="#c8102e"/>
 <ellipse cx="269" cy="652.5" rx="13" ry="12.5" fill="#c8102e"/>
 <g fill="#f47a90" opacity="0.7">
  <circle cx="262" cy="648" r="0.9"/><circle cx="270" cy="645" r="0.9"/><circle cx="275" cy="652" r="0.9"/><circle cx="266" cy="657" r="0.9"/><circle cx="278" cy="659" r="0.9"/>
  <circle cx="290" cy="640" r="0.9"/><circle cx="298" cy="638" r="0.9"/><circle cx="303" cy="646" r="0.9"/><circle cx="293" cy="650" r="0.9"/>
 </g>
 <ellipse cx="220" cy="755" rx="12" ry="4.5" fill="#c8102e"/>
</g>

</svg>

<div class="t" style="left:93.0px;top:25.8px;font-size:27.5px;line-height:27.5px;color:#eef0fa;font-family:'Liberation Serif';font-weight:normal;transform:scaleX(1.0908);-webkit-text-stroke:0.6px #eef0fa">ПІДТРИМАТИ АРМІЮ: ЩО МОЖЕ ЗРОБИТИ</div>
<div class="t" style="left:166.0px;top:56.5px;font-size:27.5px;line-height:27.5px;color:#eef0fa;font-family:'Liberation Serif';font-weight:normal;transform:scaleX(1.0614);-webkit-text-stroke:0.6px #eef0fa">ГРОМАДА, АБИ ДОПОМОГТИ ЗСУ</div>
<div class="t" style="left:93.0px;top:112.1px;font-size:20.5px;line-height:20.5px;color:#eef0fa;font-family:'Liberation Sans';font-weight:normal;transform:scaleX(1.1393)">Організуйте збори громади, аби сформувати</div>
<div class="t" style="left:93.0px;top:133.9px;font-size:20.5px;line-height:20.5px;color:#eef0fa;font-family:'Liberation Sans';font-weight:normal;transform:scaleX(1.1296)">перелік ідей. Зокрема, запросіть:</div>
<div class="t" style="left:119.0px;top:185.0px;font-size:16px;line-height:16px;color:#fcc1d3;font-family:'Liberation Sans';font-weight:normal;transform:scaleX(1.1244)">місцевих підприємців;</div>
<div class="t" style="left:119.0px;top:202.0px;font-size:16px;line-height:16px;color:#fcc1d3;font-family:'Liberation Sans';font-weight:normal;transform:scaleX(1.1038)">членів волонтерської спільноти;</div>
<div class="t" style="left:119.0px;top:219.0px;font-size:16px;line-height:16px;color:#fcc1d3;font-family:'Liberation Sans';font-weight:normal;transform:scaleX(1.1302)">представників громадських організацій;</div>
<div class="t" style="left:119.0px;top:236.3px;font-size:16px;line-height:16px;color:#fcc1d3;font-family:'Liberation Sans';font-weight:normal;transform:scaleX(1.1002)">ветеранів та/або військових, які перебувають у громаді</div>
<div class="t" style="left:326.0px;top:296.4px;font-size:20.5px;line-height:20.5px;color:#eef0fa;font-family:'Liberation Sans';font-weight:normal;transform:scaleX(1.1376)">Разом обговоріть благодійні заходи,</div>
<div class="t" style="left:326.0px;top:317.2px;font-size:20.5px;line-height:20.5px;color:#eef0fa;font-family:'Liberation Sans';font-weight:normal;transform:scaleX(1.1375)">які можна реалізувати на базі громади</div>
<div class="t" style="left:138.0px;top:364.0px;font-size:20.5px;line-height:20.5px;color:#eef0fa;font-family:'Liberation Sans';font-weight:normal;transform:scaleX(1.1334)">Якщо йдеться про збір коштів,</div>
<div class="t" style="left:138.0px;top:386.3px;font-size:20.5px;line-height:20.5px;color:#eef0fa;font-family:'Liberation Sans';font-weight:normal;transform:scaleX(1.1324)">розгляньте такі варіанти:</div>
<div class="t" style="left:80.0px;top:432.5px;font-size:16px;line-height:16px;color:#fcc1d3;font-family:'Liberation Sans';font-weight:normal;transform:scaleX(1.1346)">благодійний ярмарок;</div>
<div class="t" style="left:80.0px;top:449.7px;font-size:16px;line-height:16px;color:#fcc1d3;font-family:'Liberation Sans';font-weight:normal;transform:scaleX(1.0989)">фестиваль локальних виробників;</div>
<div class="t" style="left:80.0px;top:466.9px;font-size:16px;line-height:16px;color:#fcc1d3;font-family:'Liberation Sans';font-weight:normal;transform:scaleX(1.1208)">спортивні змагання;</div>
<div class="t" style="left:80.0px;top:484.1px;font-size:16px;line-height:16px;color:#fcc1d3;font-family:'Liberation Sans';font-weight:normal;transform:scaleX(1.1102)">майстер-класи та тренінги;</div>
<div class="t" style="left:80.0px;top:501.3px;font-size:16px;line-height:16px;color:#fcc1d3;font-family:'Liberation Sans';font-weight:normal;transform:scaleX(1.1118)">екскурсії чи походи;</div>
<div class="t" style="left:80.0px;top:518.5px;font-size:16px;line-height:16px;color:#fcc1d3;font-family:'Liberation Sans';font-weight:normal;transform:scaleX(1.1196)">мистецькі виставки, кінопокази тощо</div>
<div class="t" style="left:464.0px;top:577.6px;font-size:20.5px;line-height:20.5px;color:#eef0fa;font-family:'Liberation Sans';font-weight:normal;transform:scaleX(1.1175)">Для нефінансової</div>
<div class="t" style="left:464.0px;top:600.1px;font-size:20.5px;line-height:20.5px;color:#eef0fa;font-family:'Liberation Sans';font-weight:normal;transform:scaleX(1.1546)">допомоги війську підійде:</div>
<div class="t" style="left:409.0px;top:651.5px;font-size:16px;line-height:16px;color:#fcc1d3;font-family:'Liberation Sans';font-weight:normal;transform:scaleX(1.1154)">колективне плетіння сіток;</div>
<div class="t" style="left:409.0px;top:668.5px;font-size:16px;line-height:16px;color:#fcc1d3;font-family:'Liberation Sans';font-weight:normal;transform:scaleX(1.1025)">організація арт-терапії для бійців;</div>
<div class="t" style="left:409.0px;top:685.5px;font-size:16px;line-height:16px;color:#fcc1d3;font-family:'Liberation Sans';font-weight:normal;transform:scaleX(1.1113)">запуск безкоштовної юридичної</div>
<div class="t" style="left:409.0px;top:702.5px;font-size:16px;line-height:16px;color:#fcc1d3;font-family:'Liberation Sans';font-weight:normal;transform:scaleX(1.0862)">консультації тощо</div>

</body></html>
